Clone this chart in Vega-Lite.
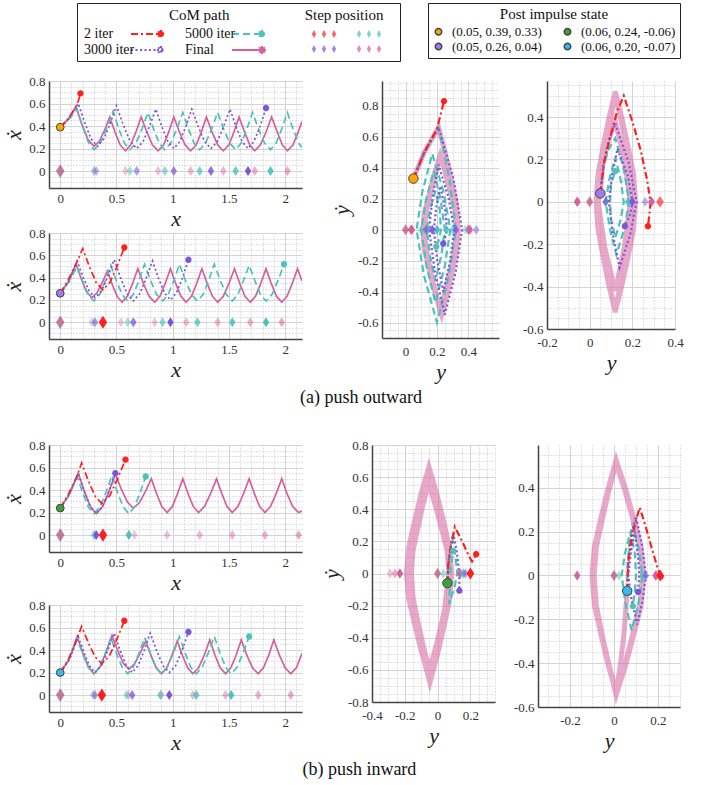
{
"$schema":"https://vega.github.io/schema/vega-lite/v6.json",
"padding":{"left":2,"top":2,"right":4,"bottom":4},
"config":{
 "view":{"stroke":null},
 "font":"Liberation Serif",
 "axis":{"labelFont":"Liberation Serif","labelFontSize":13,"labelColor":"#333","ticks":false,"domainColor":"#444","domainWidth":1.5,"labelOverlap":false,"labelFlush":false,"labelBound":false,"labelPadding":4,"titleFont":"Liberation Serif","titleFontStyle":"italic","titleFontWeight":"normal","titleFontSize":22,"titleColor":"#222","gridWidth":1},
 "legend":{"labelFont":"Liberation Serif","labelFontSize":14,"labelColor":"#111","titleFont":"Liberation Serif","titleFontSize":15,"titleFontWeight":"normal","titleColor":"#111","labelLimit":400},
 "title":{"font":"Liberation Serif","fontSize":18,"fontWeight":"normal","color":"#111"}
},
"datasets":{"all":[
{"p":"a1","m":"l","s":"Final","x":0,"y":0.39},{"p":"a1","m":"l","s":"Final","x":0.07,"y":0.46},{"p":"a1","m":"l","s":"Final","x":0.14,"y":0.57},{"p":"a1","m":"l","s":"Final","x":0.193,"y":0.414},{"p":"a1","m":"l","s":"Final","x":0.247,"y":0.281},{"p":"a1","m":"l","s":"Final","x":0.3,"y":0.22},{"p":"a1","m":"l","s":"Final","x":0.347,"y":0.262},{"p":"a1","m":"l","s":"Final","x":0.393,"y":0.36},{"p":"a1","m":"l","s":"Final","x":0.44,"y":0.48},{"p":"a1","m":"l","s":"Final","x":0.487,"y":0.347},{"p":"a1","m":"l","s":"Final","x":0.533,"y":0.233},{"p":"a1","m":"l","s":"Final","x":0.58,"y":0.18},{"p":"a1","m":"l","s":"Final","x":0.627,"y":0.233},{"p":"a1","m":"l","s":"Final","x":0.673,"y":0.347},{"p":"a1","m":"l","s":"Final","x":0.72,"y":0.48},{"p":"a1","m":"l","s":"Final","x":0.77,"y":0.347},{"p":"a1","m":"l","s":"Final","x":0.82,"y":0.233},{"p":"a1","m":"l","s":"Final","x":0.87,"y":0.18},{"p":"a1","m":"l","s":"Final","x":0.92,"y":0.233},{"p":"a1","m":"l","s":"Final","x":0.965,"y":0.347},{"p":"a1","m":"l","s":"Final","x":1.01,"y":0.48},{"p":"a1","m":"l","s":"Final","x":1.06,"y":0.347},{"p":"a1","m":"l","s":"Final","x":1.11,"y":0.233},{"p":"a1","m":"l","s":"Final","x":1.16,"y":0.18},{"p":"a1","m":"l","s":"Final","x":1.21,"y":0.233},{"p":"a1","m":"l","s":"Final","x":1.255,"y":0.347},{"p":"a1","m":"l","s":"Final","x":1.3,"y":0.48},{"p":"a1","m":"l","s":"Final","x":1.35,"y":0.347},{"p":"a1","m":"l","s":"Final","x":1.4,"y":0.233},{"p":"a1","m":"l","s":"Final","x":1.45,"y":0.18},{"p":"a1","m":"l","s":"Final","x":1.5,"y":0.233},{"p":"a1","m":"l","s":"Final","x":1.545,"y":0.347},{"p":"a1","m":"l","s":"Final","x":1.59,"y":0.48},{"p":"a1","m":"l","s":"Final","x":1.64,"y":0.347},{"p":"a1","m":"l","s":"Final","x":1.685,"y":0.233},{"p":"a1","m":"l","s":"Final","x":1.73,"y":0.18},{"p":"a1","m":"l","s":"Final","x":1.78,"y":0.233},{"p":"a1","m":"l","s":"Final","x":1.83,"y":0.347},{"p":"a1","m":"l","s":"Final","x":1.88,"y":0.48},{"p":"a1","m":"l","s":"Final","x":1.93,"y":0.347},{"p":"a1","m":"l","s":"Final","x":1.975,"y":0.233},{"p":"a1","m":"l","s":"Final","x":2.02,"y":0.18},{"p":"a1","m":"l","s":"Final","x":2.07,"y":0.233},{"p":"a1","m":"l","s":"Final","x":2.11,"y":0.33},{"p":"a1","m":"l","s":"Final","x":2.15,"y":0.44},
{"p":"a1","m":"l","s":"5000 iter","x":0,"y":0.39},{"p":"a1","m":"l","s":"5000 iter","x":0.07,"y":0.45},{"p":"a1","m":"l","s":"5000 iter","x":0.15,"y":0.55},{"p":"a1","m":"l","s":"5000 iter","x":0.2,"y":0.39},{"p":"a1","m":"l","s":"5000 iter","x":0.25,"y":0.255},{"p":"a1","m":"l","s":"5000 iter","x":0.3,"y":0.19},{"p":"a1","m":"l","s":"5000 iter","x":0.357,"y":0.251},{"p":"a1","m":"l","s":"5000 iter","x":0.413,"y":0.38},{"p":"a1","m":"l","s":"5000 iter","x":0.47,"y":0.53},{"p":"a1","m":"l","s":"5000 iter","x":0.52,"y":0.376},{"p":"a1","m":"l","s":"5000 iter","x":0.57,"y":0.25},{"p":"a1","m":"l","s":"5000 iter","x":0.62,"y":0.19},{"p":"a1","m":"l","s":"5000 iter","x":0.673,"y":0.249},{"p":"a1","m":"l","s":"5000 iter","x":0.727,"y":0.375},{"p":"a1","m":"l","s":"5000 iter","x":0.78,"y":0.52},{"p":"a1","m":"l","s":"5000 iter","x":0.83,"y":0.375},{"p":"a1","m":"l","s":"5000 iter","x":0.88,"y":0.249},{"p":"a1","m":"l","s":"5000 iter","x":0.93,"y":0.19},{"p":"a1","m":"l","s":"5000 iter","x":0.983,"y":0.249},{"p":"a1","m":"l","s":"5000 iter","x":1.037,"y":0.375},{"p":"a1","m":"l","s":"5000 iter","x":1.09,"y":0.52},{"p":"a1","m":"l","s":"5000 iter","x":1.14,"y":0.375},{"p":"a1","m":"l","s":"5000 iter","x":1.19,"y":0.249},{"p":"a1","m":"l","s":"5000 iter","x":1.24,"y":0.19},{"p":"a1","m":"l","s":"5000 iter","x":1.293,"y":0.249},{"p":"a1","m":"l","s":"5000 iter","x":1.347,"y":0.375},{"p":"a1","m":"l","s":"5000 iter","x":1.4,"y":0.52},{"p":"a1","m":"l","s":"5000 iter","x":1.453,"y":0.375},{"p":"a1","m":"l","s":"5000 iter","x":1.507,"y":0.249},{"p":"a1","m":"l","s":"5000 iter","x":1.56,"y":0.19},{"p":"a1","m":"l","s":"5000 iter","x":1.61,"y":0.249},{"p":"a1","m":"l","s":"5000 iter","x":1.66,"y":0.375},{"p":"a1","m":"l","s":"5000 iter","x":1.71,"y":0.52},{"p":"a1","m":"l","s":"5000 iter","x":1.763,"y":0.375},{"p":"a1","m":"l","s":"5000 iter","x":1.817,"y":0.249},{"p":"a1","m":"l","s":"5000 iter","x":1.87,"y":0.19},{"p":"a1","m":"l","s":"5000 iter","x":1.92,"y":0.249},{"p":"a1","m":"l","s":"5000 iter","x":1.97,"y":0.375},{"p":"a1","m":"l","s":"5000 iter","x":2.02,"y":0.52},{"p":"a1","m":"l","s":"5000 iter","x":2.07,"y":0.375},{"p":"a1","m":"l","s":"5000 iter","x":2.12,"y":0.249},{"p":"a1","m":"l","s":"5000 iter","x":2.15,"y":0.21},
{"p":"a1","m":"l","s":"3000 iter","x":0,"y":0.39},{"p":"a1","m":"l","s":"3000 iter","x":0.08,"y":0.47},{"p":"a1","m":"l","s":"3000 iter","x":0.16,"y":0.6},{"p":"a1","m":"l","s":"3000 iter","x":0.217,"y":0.433},{"p":"a1","m":"l","s":"3000 iter","x":0.273,"y":0.288},{"p":"a1","m":"l","s":"3000 iter","x":0.33,"y":0.22},{"p":"a1","m":"l","s":"3000 iter","x":0.387,"y":0.285},{"p":"a1","m":"l","s":"3000 iter","x":0.443,"y":0.42},{"p":"a1","m":"l","s":"3000 iter","x":0.5,"y":0.58},{"p":"a1","m":"l","s":"3000 iter","x":0.56,"y":0.413},{"p":"a1","m":"l","s":"3000 iter","x":0.62,"y":0.268},{"p":"a1","m":"l","s":"3000 iter","x":0.68,"y":0.2},{"p":"a1","m":"l","s":"3000 iter","x":0.737,"y":0.263},{"p":"a1","m":"l","s":"3000 iter","x":0.793,"y":0.396},{"p":"a1","m":"l","s":"3000 iter","x":0.85,"y":0.55},{"p":"a1","m":"l","s":"3000 iter","x":0.903,"y":0.396},{"p":"a1","m":"l","s":"3000 iter","x":0.957,"y":0.263},{"p":"a1","m":"l","s":"3000 iter","x":1.01,"y":0.2},{"p":"a1","m":"l","s":"3000 iter","x":1.063,"y":0.263},{"p":"a1","m":"l","s":"3000 iter","x":1.117,"y":0.396},{"p":"a1","m":"l","s":"3000 iter","x":1.17,"y":0.55},{"p":"a1","m":"l","s":"3000 iter","x":1.227,"y":0.396},{"p":"a1","m":"l","s":"3000 iter","x":1.283,"y":0.263},{"p":"a1","m":"l","s":"3000 iter","x":1.34,"y":0.2},{"p":"a1","m":"l","s":"3000 iter","x":1.397,"y":0.263},{"p":"a1","m":"l","s":"3000 iter","x":1.453,"y":0.396},{"p":"a1","m":"l","s":"3000 iter","x":1.51,"y":0.55},{"p":"a1","m":"l","s":"3000 iter","x":1.563,"y":0.396},{"p":"a1","m":"l","s":"3000 iter","x":1.617,"y":0.263},{"p":"a1","m":"l","s":"3000 iter","x":1.67,"y":0.2},{"p":"a1","m":"l","s":"3000 iter","x":1.723,"y":0.263},{"p":"a1","m":"l","s":"3000 iter","x":1.777,"y":0.396},{"p":"a1","m":"l","s":"3000 iter","x":1.83,"y":0.56},
{"p":"a1","m":"l","s":"2 iter","x":0,"y":0.39},{"p":"a1","m":"l","s":"2 iter","x":0.06,"y":0.45},{"p":"a1","m":"l","s":"2 iter","x":0.12,"y":0.54},{"p":"a1","m":"l","s":"2 iter","x":0.16,"y":0.62},{"p":"a1","m":"l","s":"2 iter","x":0.18,"y":0.69},
{"p":"a1","m":"e","s":"2 iter","x":0.18,"y":0.69},{"p":"a1","m":"e","s":"3000 iter","x":1.83,"y":0.56},
{"p":"a1","m":"d","s":"Final","x":0,"y":0,"t":0},{"p":"a1","m":"d","s":"Final","x":0.3,"y":0,"t":0.05},{"p":"a1","m":"d","s":"Final","x":0.58,"y":0,"t":0.1},{"p":"a1","m":"d","s":"Final","x":0.87,"y":0,"t":0.15},{"p":"a1","m":"d","s":"Final","x":1.16,"y":0,"t":0.2},{"p":"a1","m":"d","s":"Final","x":1.45,"y":0,"t":0.25},{"p":"a1","m":"d","s":"Final","x":1.73,"y":0,"t":0.3},{"p":"a1","m":"d","s":"Final","x":2.02,"y":0,"t":0.35},
{"p":"a1","m":"d","s":"5000 iter","x":0,"y":0,"t":0},{"p":"a1","m":"d","s":"5000 iter","x":0.3,"y":0,"t":0.15},{"p":"a1","m":"d","s":"5000 iter","x":0.62,"y":0,"t":0.3},{"p":"a1","m":"d","s":"5000 iter","x":0.93,"y":0,"t":0.45},{"p":"a1","m":"d","s":"5000 iter","x":1.24,"y":0,"t":0.6},{"p":"a1","m":"d","s":"5000 iter","x":1.56,"y":0,"t":0.75},{"p":"a1","m":"d","s":"5000 iter","x":1.87,"y":0,"t":0.9},
{"p":"a1","m":"d","s":"3000 iter","x":0,"y":0,"t":0},{"p":"a1","m":"d","s":"3000 iter","x":0.32,"y":0,"t":0.2},{"p":"a1","m":"d","s":"3000 iter","x":0.68,"y":0,"t":0.4},{"p":"a1","m":"d","s":"3000 iter","x":1.01,"y":0,"t":0.6},{"p":"a1","m":"d","s":"3000 iter","x":1.34,"y":0,"t":0.8},{"p":"a1","m":"d","s":"3000 iter","x":1.67,"y":0,"t":1},
{"p":"a1","m":"d","s":"2 iter","x":0,"y":0,"t":0},
{"p":"a1","m":"i","lab":"(0.05, 0.39,  0.33)","x":0,"y":0.39},

{"p":"a2","m":"l","s":"Final","x":0,"y":0.26},{"p":"a2","m":"l","s":"Final","x":0.07,"y":0.36},{"p":"a2","m":"l","s":"Final","x":0.14,"y":0.52},{"p":"a2","m":"l","s":"Final","x":0.187,"y":0.388},{"p":"a2","m":"l","s":"Final","x":0.233,"y":0.274},{"p":"a2","m":"l","s":"Final","x":0.28,"y":0.22},{"p":"a2","m":"l","s":"Final","x":0.327,"y":0.263},{"p":"a2","m":"l","s":"Final","x":0.373,"y":0.354},{"p":"a2","m":"l","s":"Final","x":0.42,"y":0.46},{"p":"a2","m":"l","s":"Final","x":0.463,"y":0.337},{"p":"a2","m":"l","s":"Final","x":0.507,"y":0.23},{"p":"a2","m":"l","s":"Final","x":0.55,"y":0.18},{"p":"a2","m":"l","s":"Final","x":0.597,"y":0.233},{"p":"a2","m":"l","s":"Final","x":0.643,"y":0.347},{"p":"a2","m":"l","s":"Final","x":0.69,"y":0.48},{"p":"a2","m":"l","s":"Final","x":0.74,"y":0.347},{"p":"a2","m":"l","s":"Final","x":0.79,"y":0.233},{"p":"a2","m":"l","s":"Final","x":0.84,"y":0.18},{"p":"a2","m":"l","s":"Final","x":0.887,"y":0.233},{"p":"a2","m":"l","s":"Final","x":0.933,"y":0.347},{"p":"a2","m":"l","s":"Final","x":0.98,"y":0.48},{"p":"a2","m":"l","s":"Final","x":1.027,"y":0.347},{"p":"a2","m":"l","s":"Final","x":1.073,"y":0.233},{"p":"a2","m":"l","s":"Final","x":1.12,"y":0.18},{"p":"a2","m":"l","s":"Final","x":1.167,"y":0.233},{"p":"a2","m":"l","s":"Final","x":1.213,"y":0.347},{"p":"a2","m":"l","s":"Final","x":1.26,"y":0.48},{"p":"a2","m":"l","s":"Final","x":1.307,"y":0.347},{"p":"a2","m":"l","s":"Final","x":1.353,"y":0.233},{"p":"a2","m":"l","s":"Final","x":1.4,"y":0.18},{"p":"a2","m":"l","s":"Final","x":1.45,"y":0.233},{"p":"a2","m":"l","s":"Final","x":1.5,"y":0.347},{"p":"a2","m":"l","s":"Final","x":1.55,"y":0.48},{"p":"a2","m":"l","s":"Final","x":1.597,"y":0.347},{"p":"a2","m":"l","s":"Final","x":1.643,"y":0.233},{"p":"a2","m":"l","s":"Final","x":1.69,"y":0.18},{"p":"a2","m":"l","s":"Final","x":1.737,"y":0.233},{"p":"a2","m":"l","s":"Final","x":1.783,"y":0.347},{"p":"a2","m":"l","s":"Final","x":1.83,"y":0.48},{"p":"a2","m":"l","s":"Final","x":1.877,"y":0.347},{"p":"a2","m":"l","s":"Final","x":1.923,"y":0.233},{"p":"a2","m":"l","s":"Final","x":1.97,"y":0.18},{"p":"a2","m":"l","s":"Final","x":2.017,"y":0.233},{"p":"a2","m":"l","s":"Final","x":2.063,"y":0.347},{"p":"a2","m":"l","s":"Final","x":2.11,"y":0.48},{"p":"a2","m":"l","s":"Final","x":2.15,"y":0.37},
{"p":"a2","m":"l","s":"5000 iter","x":0,"y":0.26},{"p":"a2","m":"l","s":"5000 iter","x":0.07,"y":0.35},{"p":"a2","m":"l","s":"5000 iter","x":0.15,"y":0.5},{"p":"a2","m":"l","s":"5000 iter","x":0.2,"y":0.364},{"p":"a2","m":"l","s":"5000 iter","x":0.25,"y":0.246},{"p":"a2","m":"l","s":"5000 iter","x":0.3,"y":0.19},{"p":"a2","m":"l","s":"5000 iter","x":0.35,"y":0.248},{"p":"a2","m":"l","s":"5000 iter","x":0.4,"y":0.37},{"p":"a2","m":"l","s":"5000 iter","x":0.45,"y":0.51},{"p":"a2","m":"l","s":"5000 iter","x":0.5,"y":0.37},{"p":"a2","m":"l","s":"5000 iter","x":0.55,"y":0.249},{"p":"a2","m":"l","s":"5000 iter","x":0.6,"y":0.19},{"p":"a2","m":"l","s":"5000 iter","x":0.65,"y":0.249},{"p":"a2","m":"l","s":"5000 iter","x":0.7,"y":0.375},{"p":"a2","m":"l","s":"5000 iter","x":0.75,"y":0.52},{"p":"a2","m":"l","s":"5000 iter","x":0.803,"y":0.375},{"p":"a2","m":"l","s":"5000 iter","x":0.857,"y":0.249},{"p":"a2","m":"l","s":"5000 iter","x":0.91,"y":0.19},{"p":"a2","m":"l","s":"5000 iter","x":0.96,"y":0.249},{"p":"a2","m":"l","s":"5000 iter","x":1.01,"y":0.375},{"p":"a2","m":"l","s":"5000 iter","x":1.06,"y":0.52},{"p":"a2","m":"l","s":"5000 iter","x":1.113,"y":0.375},{"p":"a2","m":"l","s":"5000 iter","x":1.167,"y":0.249},{"p":"a2","m":"l","s":"5000 iter","x":1.22,"y":0.19},{"p":"a2","m":"l","s":"5000 iter","x":1.27,"y":0.249},{"p":"a2","m":"l","s":"5000 iter","x":1.32,"y":0.375},{"p":"a2","m":"l","s":"5000 iter","x":1.37,"y":0.52},{"p":"a2","m":"l","s":"5000 iter","x":1.423,"y":0.375},{"p":"a2","m":"l","s":"5000 iter","x":1.477,"y":0.249},{"p":"a2","m":"l","s":"5000 iter","x":1.53,"y":0.19},{"p":"a2","m":"l","s":"5000 iter","x":1.58,"y":0.249},{"p":"a2","m":"l","s":"5000 iter","x":1.63,"y":0.375},{"p":"a2","m":"l","s":"5000 iter","x":1.68,"y":0.51},{"p":"a2","m":"l","s":"5000 iter","x":1.73,"y":0.375},{"p":"a2","m":"l","s":"5000 iter","x":1.78,"y":0.249},{"p":"a2","m":"l","s":"5000 iter","x":1.83,"y":0.19},{"p":"a2","m":"l","s":"5000 iter","x":1.883,"y":0.249},{"p":"a2","m":"l","s":"5000 iter","x":1.937,"y":0.375},{"p":"a2","m":"l","s":"5000 iter","x":1.99,"y":0.52},
{"p":"a2","m":"l","s":"3000 iter","x":0,"y":0.26},{"p":"a2","m":"l","s":"3000 iter","x":0.08,"y":0.37},{"p":"a2","m":"l","s":"3000 iter","x":0.15,"y":0.55},{"p":"a2","m":"l","s":"3000 iter","x":0.203,"y":0.405},{"p":"a2","m":"l","s":"3000 iter","x":0.257,"y":0.279},{"p":"a2","m":"l","s":"3000 iter","x":0.31,"y":0.22},{"p":"a2","m":"l","s":"3000 iter","x":0.367,"y":0.281},{"p":"a2","m":"l","s":"3000 iter","x":0.423,"y":0.41},{"p":"a2","m":"l","s":"3000 iter","x":0.48,"y":0.56},{"p":"a2","m":"l","s":"3000 iter","x":0.537,"y":0.397},{"p":"a2","m":"l","s":"3000 iter","x":0.593,"y":0.257},{"p":"a2","m":"l","s":"3000 iter","x":0.65,"y":0.19},{"p":"a2","m":"l","s":"3000 iter","x":0.707,"y":0.256},{"p":"a2","m":"l","s":"3000 iter","x":0.763,"y":0.392},{"p":"a2","m":"l","s":"3000 iter","x":0.82,"y":0.55},{"p":"a2","m":"l","s":"3000 iter","x":0.873,"y":0.396},{"p":"a2","m":"l","s":"3000 iter","x":0.927,"y":0.263},{"p":"a2","m":"l","s":"3000 iter","x":0.98,"y":0.2},{"p":"a2","m":"l","s":"3000 iter","x":1.033,"y":0.263},{"p":"a2","m":"l","s":"3000 iter","x":1.087,"y":0.396},{"p":"a2","m":"l","s":"3000 iter","x":1.14,"y":0.56},
{"p":"a2","m":"l","s":"2 iter","x":0,"y":0.26},{"p":"a2","m":"l","s":"2 iter","x":0.07,"y":0.38},{"p":"a2","m":"l","s":"2 iter","x":0.14,"y":0.52},{"p":"a2","m":"l","s":"2 iter","x":0.2,"y":0.66},{"p":"a2","m":"l","s":"2 iter","x":0.26,"y":0.497},{"p":"a2","m":"l","s":"2 iter","x":0.32,"y":0.357},{"p":"a2","m":"l","s":"2 iter","x":0.38,"y":0.29},{"p":"a2","m":"l","s":"2 iter","x":0.443,"y":0.36},{"p":"a2","m":"l","s":"2 iter","x":0.507,"y":0.505},{"p":"a2","m":"l","s":"2 iter","x":0.57,"y":0.67},
{"p":"a2","m":"e","s":"2 iter","x":0.57,"y":0.67},{"p":"a2","m":"e","s":"3000 iter","x":1.14,"y":0.56},{"p":"a2","m":"e","s":"5000 iter","x":1.99,"y":0.52},
{"p":"a2","m":"d","s":"Final","x":0,"y":0,"t":0},{"p":"a2","m":"d","s":"Final","x":0.28,"y":0,"t":0.05},{"p":"a2","m":"d","s":"Final","x":0.54,"y":0,"t":0.1},{"p":"a2","m":"d","s":"Final","x":0.84,"y":0,"t":0.15},{"p":"a2","m":"d","s":"Final","x":1.12,"y":0,"t":0.2},{"p":"a2","m":"d","s":"Final","x":1.4,"y":0,"t":0.25},{"p":"a2","m":"d","s":"Final","x":1.69,"y":0,"t":0.3},{"p":"a2","m":"d","s":"Final","x":1.97,"y":0,"t":0.35},
{"p":"a2","m":"d","s":"5000 iter","x":0,"y":0,"t":0},{"p":"a2","m":"d","s":"5000 iter","x":0.3,"y":0,"t":0.17},{"p":"a2","m":"d","s":"5000 iter","x":0.6,"y":0,"t":0.33},{"p":"a2","m":"d","s":"5000 iter","x":0.91,"y":0,"t":0.5},{"p":"a2","m":"d","s":"5000 iter","x":1.22,"y":0,"t":0.67},{"p":"a2","m":"d","s":"5000 iter","x":1.53,"y":0,"t":0.83},{"p":"a2","m":"d","s":"5000 iter","x":1.83,"y":0,"t":1},
{"p":"a2","m":"d","s":"3000 iter","x":0,"y":0,"t":0},{"p":"a2","m":"d","s":"3000 iter","x":0.31,"y":0,"t":0.33},{"p":"a2","m":"d","s":"3000 iter","x":0.65,"y":0,"t":0.67},{"p":"a2","m":"d","s":"3000 iter","x":0.98,"y":0,"t":1},
{"p":"a2","m":"d","s":"2 iter","x":0,"y":0,"t":0},{"p":"a2","m":"d","s":"2 iter","x":0.38,"y":0,"t":1},
{"p":"a2","m":"i","lab":"(0.05, 0.26,  0.04)","x":0,"y":0.26},

{"p":"b1","m":"l","s":"Final","x":0,"y":0.24},{"p":"b1","m":"l","s":"Final","x":0.08,"y":0.36},{"p":"b1","m":"l","s":"Final","x":0.16,"y":0.55},{"p":"b1","m":"l","s":"Final","x":0.213,"y":0.392},{"p":"b1","m":"l","s":"Final","x":0.267,"y":0.255},{"p":"b1","m":"l","s":"Final","x":0.32,"y":0.19},{"p":"b1","m":"l","s":"Final","x":0.377,"y":0.253},{"p":"b1","m":"l","s":"Final","x":0.433,"y":0.386},{"p":"b1","m":"l","s":"Final","x":0.49,"y":0.54},{"p":"b1","m":"l","s":"Final","x":0.543,"y":0.408},{"p":"b1","m":"l","s":"Final","x":0.597,"y":0.294},{"p":"b1","m":"l","s":"Final","x":0.65,"y":0.24},{"p":"b1","m":"l","s":"Final","x":0.703,"y":0.287},{"p":"b1","m":"l","s":"Final","x":0.757,"y":0.386},{"p":"b1","m":"l","s":"Final","x":0.81,"y":0.5},{"p":"b1","m":"l","s":"Final","x":0.857,"y":0.368},{"p":"b1","m":"l","s":"Final","x":0.903,"y":0.254},{"p":"b1","m":"l","s":"Final","x":0.95,"y":0.2},{"p":"b1","m":"l","s":"Final","x":0.997,"y":0.254},{"p":"b1","m":"l","s":"Final","x":1.043,"y":0.368},{"p":"b1","m":"l","s":"Final","x":1.09,"y":0.5},{"p":"b1","m":"l","s":"Final","x":1.137,"y":0.368},{"p":"b1","m":"l","s":"Final","x":1.183,"y":0.254},{"p":"b1","m":"l","s":"Final","x":1.23,"y":0.2},{"p":"b1","m":"l","s":"Final","x":1.283,"y":0.254},{"p":"b1","m":"l","s":"Final","x":1.337,"y":0.368},{"p":"b1","m":"l","s":"Final","x":1.39,"y":0.5},{"p":"b1","m":"l","s":"Final","x":1.437,"y":0.368},{"p":"b1","m":"l","s":"Final","x":1.483,"y":0.254},{"p":"b1","m":"l","s":"Final","x":1.53,"y":0.2},{"p":"b1","m":"l","s":"Final","x":1.58,"y":0.254},{"p":"b1","m":"l","s":"Final","x":1.63,"y":0.368},{"p":"b1","m":"l","s":"Final","x":1.68,"y":0.5},{"p":"b1","m":"l","s":"Final","x":1.727,"y":0.368},{"p":"b1","m":"l","s":"Final","x":1.773,"y":0.254},{"p":"b1","m":"l","s":"Final","x":1.82,"y":0.2},{"p":"b1","m":"l","s":"Final","x":1.87,"y":0.254},{"p":"b1","m":"l","s":"Final","x":1.92,"y":0.368},{"p":"b1","m":"l","s":"Final","x":1.97,"y":0.5},{"p":"b1","m":"l","s":"Final","x":2.017,"y":0.368},{"p":"b1","m":"l","s":"Final","x":2.067,"y":0.254},{"p":"b1","m":"l","s":"Final","x":2.12,"y":0.2},{"p":"b1","m":"l","s":"Final","x":2.15,"y":0.215},
{"p":"b1","m":"l","s":"5000 iter","x":0,"y":0.24},{"p":"b1","m":"l","s":"5000 iter","x":0.07,"y":0.34},{"p":"b1","m":"l","s":"5000 iter","x":0.15,"y":0.52},{"p":"b1","m":"l","s":"5000 iter","x":0.2,"y":0.375},{"p":"b1","m":"l","s":"5000 iter","x":0.25,"y":0.25},{"p":"b1","m":"l","s":"5000 iter","x":0.3,"y":0.19},{"p":"b1","m":"l","s":"5000 iter","x":0.353,"y":0.25},{"p":"b1","m":"l","s":"5000 iter","x":0.407,"y":0.38},{"p":"b1","m":"l","s":"5000 iter","x":0.46,"y":0.53},{"p":"b1","m":"l","s":"5000 iter","x":0.51,"y":0.377},{"p":"b1","m":"l","s":"5000 iter","x":0.56,"y":0.25},{"p":"b1","m":"l","s":"5000 iter","x":0.61,"y":0.19},{"p":"b1","m":"l","s":"5000 iter","x":0.66,"y":0.25},{"p":"b1","m":"l","s":"5000 iter","x":0.71,"y":0.375},{"p":"b1","m":"l","s":"5000 iter","x":0.76,"y":0.52},
{"p":"b1","m":"l","s":"3000 iter","x":0,"y":0.24},{"p":"b1","m":"l","s":"3000 iter","x":0.08,"y":0.36},{"p":"b1","m":"l","s":"3000 iter","x":0.16,"y":0.55},{"p":"b1","m":"l","s":"3000 iter","x":0.213,"y":0.39},{"p":"b1","m":"l","s":"3000 iter","x":0.267,"y":0.255},{"p":"b1","m":"l","s":"3000 iter","x":0.32,"y":0.19},{"p":"b1","m":"l","s":"3000 iter","x":0.377,"y":0.255},{"p":"b1","m":"l","s":"3000 iter","x":0.433,"y":0.39},{"p":"b1","m":"l","s":"3000 iter","x":0.49,"y":0.55},
{"p":"b1","m":"l","s":"2 iter","x":0,"y":0.24},{"p":"b1","m":"l","s":"2 iter","x":0.07,"y":0.36},{"p":"b1","m":"l","s":"2 iter","x":0.14,"y":0.5},{"p":"b1","m":"l","s":"2 iter","x":0.19,"y":0.64},{"p":"b1","m":"l","s":"2 iter","x":0.25,"y":0.482},{"p":"b1","m":"l","s":"2 iter","x":0.31,"y":0.345},{"p":"b1","m":"l","s":"2 iter","x":0.37,"y":0.28},{"p":"b1","m":"l","s":"2 iter","x":0.44,"y":0.35},{"p":"b1","m":"l","s":"2 iter","x":0.51,"y":0.5},{"p":"b1","m":"l","s":"2 iter","x":0.58,"y":0.67},
{"p":"b1","m":"e","s":"2 iter","x":0.58,"y":0.67},{"p":"b1","m":"e","s":"3000 iter","x":0.49,"y":0.55},{"p":"b1","m":"e","s":"5000 iter","x":0.76,"y":0.52},
{"p":"b1","m":"d","s":"Final","x":0,"y":0,"t":0},{"p":"b1","m":"d","s":"Final","x":0.32,"y":0,"t":0.05},{"p":"b1","m":"d","s":"Final","x":0.66,"y":0,"t":0.1},{"p":"b1","m":"d","s":"Final","x":0.95,"y":0,"t":0.15},{"p":"b1","m":"d","s":"Final","x":1.24,"y":0,"t":0.2},{"p":"b1","m":"d","s":"Final","x":1.53,"y":0,"t":0.25},{"p":"b1","m":"d","s":"Final","x":1.82,"y":0,"t":0.3},{"p":"b1","m":"d","s":"Final","x":2.12,"y":0,"t":0.35},
{"p":"b1","m":"d","s":"5000 iter","x":0,"y":0,"t":0},{"p":"b1","m":"d","s":"5000 iter","x":0.3,"y":0,"t":0.5},{"p":"b1","m":"d","s":"5000 iter","x":0.61,"y":0,"t":1},
{"p":"b1","m":"d","s":"3000 iter","x":0,"y":0,"t":0},{"p":"b1","m":"d","s":"3000 iter","x":0.32,"y":0,"t":1},
{"p":"b1","m":"d","s":"2 iter","x":0,"y":0,"t":0},{"p":"b1","m":"d","s":"2 iter","x":0.38,"y":0,"t":1},
{"p":"b1","m":"i","lab":"(0.06, 0.24, -0.06)","x":0,"y":0.24},

{"p":"b2","m":"l","s":"Final","x":0,"y":0.2},{"p":"b2","m":"l","s":"Final","x":0.08,"y":0.32},{"p":"b2","m":"l","s":"Final","x":0.15,"y":0.52},{"p":"b2","m":"l","s":"Final","x":0.2,"y":0.375},{"p":"b2","m":"l","s":"Final","x":0.25,"y":0.25},{"p":"b2","m":"l","s":"Final","x":0.3,"y":0.19},{"p":"b2","m":"l","s":"Final","x":0.353,"y":0.25},{"p":"b2","m":"l","s":"Final","x":0.407,"y":0.38},{"p":"b2","m":"l","s":"Final","x":0.46,"y":0.53},{"p":"b2","m":"l","s":"Final","x":0.51,"y":0.398},{"p":"b2","m":"l","s":"Final","x":0.56,"y":0.284},{"p":"b2","m":"l","s":"Final","x":0.61,"y":0.23},{"p":"b2","m":"l","s":"Final","x":0.66,"y":0.277},{"p":"b2","m":"l","s":"Final","x":0.71,"y":0.372},{"p":"b2","m":"l","s":"Final","x":0.76,"y":0.48},{"p":"b2","m":"l","s":"Final","x":0.807,"y":0.352},{"p":"b2","m":"l","s":"Final","x":0.853,"y":0.242},{"p":"b2","m":"l","s":"Final","x":0.9,"y":0.19},{"p":"b2","m":"l","s":"Final","x":0.947,"y":0.242},{"p":"b2","m":"l","s":"Final","x":0.993,"y":0.352},{"p":"b2","m":"l","s":"Final","x":1.04,"y":0.48},{"p":"b2","m":"l","s":"Final","x":1.087,"y":0.352},{"p":"b2","m":"l","s":"Final","x":1.133,"y":0.242},{"p":"b2","m":"l","s":"Final","x":1.18,"y":0.19},{"p":"b2","m":"l","s":"Final","x":1.23,"y":0.242},{"p":"b2","m":"l","s":"Final","x":1.28,"y":0.352},{"p":"b2","m":"l","s":"Final","x":1.33,"y":0.49},{"p":"b2","m":"l","s":"Final","x":1.377,"y":0.352},{"p":"b2","m":"l","s":"Final","x":1.423,"y":0.242},{"p":"b2","m":"l","s":"Final","x":1.47,"y":0.19},{"p":"b2","m":"l","s":"Final","x":1.517,"y":0.242},{"p":"b2","m":"l","s":"Final","x":1.563,"y":0.352},{"p":"b2","m":"l","s":"Final","x":1.61,"y":0.49},{"p":"b2","m":"l","s":"Final","x":1.66,"y":0.352},{"p":"b2","m":"l","s":"Final","x":1.71,"y":0.242},{"p":"b2","m":"l","s":"Final","x":1.76,"y":0.19},{"p":"b2","m":"l","s":"Final","x":1.807,"y":0.242},{"p":"b2","m":"l","s":"Final","x":1.853,"y":0.352},{"p":"b2","m":"l","s":"Final","x":1.9,"y":0.49},{"p":"b2","m":"l","s":"Final","x":1.95,"y":0.352},{"p":"b2","m":"l","s":"Final","x":2,"y":0.242},{"p":"b2","m":"l","s":"Final","x":2.05,"y":0.19},{"p":"b2","m":"l","s":"Final","x":2.1,"y":0.242},{"p":"b2","m":"l","s":"Final","x":2.15,"y":0.37},
{"p":"b2","m":"l","s":"5000 iter","x":0,"y":0.2},{"p":"b2","m":"l","s":"5000 iter","x":0.07,"y":0.3},{"p":"b2","m":"l","s":"5000 iter","x":0.15,"y":0.5},{"p":"b2","m":"l","s":"5000 iter","x":0.2,"y":0.364},{"p":"b2","m":"l","s":"5000 iter","x":0.25,"y":0.246},{"p":"b2","m":"l","s":"5000 iter","x":0.3,"y":0.19},{"p":"b2","m":"l","s":"5000 iter","x":0.35,"y":0.248},{"p":"b2","m":"l","s":"5000 iter","x":0.4,"y":0.37},{"p":"b2","m":"l","s":"5000 iter","x":0.45,"y":0.51},{"p":"b2","m":"l","s":"5000 iter","x":0.5,"y":0.37},{"p":"b2","m":"l","s":"5000 iter","x":0.55,"y":0.248},{"p":"b2","m":"l","s":"5000 iter","x":0.6,"y":0.19},{"p":"b2","m":"l","s":"5000 iter","x":0.65,"y":0.248},{"p":"b2","m":"l","s":"5000 iter","x":0.7,"y":0.37},{"p":"b2","m":"l","s":"5000 iter","x":0.75,"y":0.51},{"p":"b2","m":"l","s":"5000 iter","x":0.8,"y":0.375},{"p":"b2","m":"l","s":"5000 iter","x":0.85,"y":0.249},{"p":"b2","m":"l","s":"5000 iter","x":0.9,"y":0.19},{"p":"b2","m":"l","s":"5000 iter","x":0.953,"y":0.249},{"p":"b2","m":"l","s":"5000 iter","x":1.007,"y":0.375},{"p":"b2","m":"l","s":"5000 iter","x":1.06,"y":0.52},{"p":"b2","m":"l","s":"5000 iter","x":1.11,"y":0.375},{"p":"b2","m":"l","s":"5000 iter","x":1.16,"y":0.249},{"p":"b2","m":"l","s":"5000 iter","x":1.21,"y":0.19},{"p":"b2","m":"l","s":"5000 iter","x":1.263,"y":0.249},{"p":"b2","m":"l","s":"5000 iter","x":1.317,"y":0.375},{"p":"b2","m":"l","s":"5000 iter","x":1.37,"y":0.52},{"p":"b2","m":"l","s":"5000 iter","x":1.42,"y":0.375},{"p":"b2","m":"l","s":"5000 iter","x":1.47,"y":0.249},{"p":"b2","m":"l","s":"5000 iter","x":1.52,"y":0.19},{"p":"b2","m":"l","s":"5000 iter","x":1.573,"y":0.249},{"p":"b2","m":"l","s":"5000 iter","x":1.627,"y":0.375},{"p":"b2","m":"l","s":"5000 iter","x":1.68,"y":0.52},
{"p":"b2","m":"l","s":"3000 iter","x":0,"y":0.2},{"p":"b2","m":"l","s":"3000 iter","x":0.08,"y":0.31},{"p":"b2","m":"l","s":"3000 iter","x":0.16,"y":0.52},{"p":"b2","m":"l","s":"3000 iter","x":0.21,"y":0.38},{"p":"b2","m":"l","s":"3000 iter","x":0.26,"y":0.258},{"p":"b2","m":"l","s":"3000 iter","x":0.31,"y":0.2},{"p":"b2","m":"l","s":"3000 iter","x":0.367,"y":0.263},{"p":"b2","m":"l","s":"3000 iter","x":0.423,"y":0.396},{"p":"b2","m":"l","s":"3000 iter","x":0.48,"y":0.55},{"p":"b2","m":"l","s":"3000 iter","x":0.533,"y":0.396},{"p":"b2","m":"l","s":"3000 iter","x":0.587,"y":0.263},{"p":"b2","m":"l","s":"3000 iter","x":0.64,"y":0.2},{"p":"b2","m":"l","s":"3000 iter","x":0.693,"y":0.263},{"p":"b2","m":"l","s":"3000 iter","x":0.747,"y":0.396},{"p":"b2","m":"l","s":"3000 iter","x":0.8,"y":0.55},{"p":"b2","m":"l","s":"3000 iter","x":0.857,"y":0.396},{"p":"b2","m":"l","s":"3000 iter","x":0.913,"y":0.263},{"p":"b2","m":"l","s":"3000 iter","x":0.97,"y":0.2},{"p":"b2","m":"l","s":"3000 iter","x":1.027,"y":0.263},{"p":"b2","m":"l","s":"3000 iter","x":1.083,"y":0.396},{"p":"b2","m":"l","s":"3000 iter","x":1.14,"y":0.56},
{"p":"b2","m":"l","s":"2 iter","x":0,"y":0.2},{"p":"b2","m":"l","s":"2 iter","x":0.07,"y":0.31},{"p":"b2","m":"l","s":"2 iter","x":0.13,"y":0.45},{"p":"b2","m":"l","s":"2 iter","x":0.19,"y":0.61},{"p":"b2","m":"l","s":"2 iter","x":0.25,"y":0.465},{"p":"b2","m":"l","s":"2 iter","x":0.31,"y":0.339},{"p":"b2","m":"l","s":"2 iter","x":0.37,"y":0.28},{"p":"b2","m":"l","s":"2 iter","x":0.437,"y":0.348},{"p":"b2","m":"l","s":"2 iter","x":0.503,"y":0.493},{"p":"b2","m":"l","s":"2 iter","x":0.57,"y":0.66},
{"p":"b2","m":"e","s":"2 iter","x":0.57,"y":0.66},{"p":"b2","m":"e","s":"3000 iter","x":1.14,"y":0.56},{"p":"b2","m":"e","s":"5000 iter","x":1.68,"y":0.52},
{"p":"b2","m":"d","s":"Final","x":0,"y":0,"t":0},{"p":"b2","m":"d","s":"Final","x":0.3,"y":0,"t":0.05},{"p":"b2","m":"d","s":"Final","x":0.61,"y":0,"t":0.1},{"p":"b2","m":"d","s":"Final","x":0.9,"y":0,"t":0.15},{"p":"b2","m":"d","s":"Final","x":1.18,"y":0,"t":0.2},{"p":"b2","m":"d","s":"Final","x":1.47,"y":0,"t":0.25},{"p":"b2","m":"d","s":"Final","x":1.76,"y":0,"t":0.3},{"p":"b2","m":"d","s":"Final","x":2.05,"y":0,"t":0.35},
{"p":"b2","m":"d","s":"5000 iter","x":0,"y":0,"t":0},{"p":"b2","m":"d","s":"5000 iter","x":0.29,"y":0,"t":0.2},{"p":"b2","m":"d","s":"5000 iter","x":0.59,"y":0,"t":0.4},{"p":"b2","m":"d","s":"5000 iter","x":0.89,"y":0,"t":0.6},{"p":"b2","m":"d","s":"5000 iter","x":1.21,"y":0,"t":0.8},{"p":"b2","m":"d","s":"5000 iter","x":1.52,"y":0,"t":1},
{"p":"b2","m":"d","s":"3000 iter","x":0,"y":0,"t":0},{"p":"b2","m":"d","s":"3000 iter","x":0.31,"y":0,"t":0.33},{"p":"b2","m":"d","s":"3000 iter","x":0.64,"y":0,"t":0.67},{"p":"b2","m":"d","s":"3000 iter","x":0.97,"y":0,"t":1},
{"p":"b2","m":"d","s":"2 iter","x":0,"y":0,"t":0},{"p":"b2","m":"d","s":"2 iter","x":0.37,"y":0,"t":1},
{"p":"b2","m":"i","lab":"(0.06, 0.20, -0.07)","x":0,"y":0.2},

{"p":"a3","m":"l","s":"Final","x":0.05,"y":0.33},{"p":"a3","m":"l","s":"Final","x":0.12,"y":0.5},{"p":"a3","m":"l","s":"Final","x":0.21,"y":0.66},{"p":"a3","m":"l","s":"Final","x":0.253,"y":0.495},{"p":"a3","m":"l","s":"Final","x":0.289,"y":0.33},{"p":"a3","m":"l","s":"Final","x":0.323,"y":0.165},{"p":"a3","m":"l","s":"Final","x":0.335,"y":0},{"p":"a3","m":"l","s":"Final","x":0.325,"y":-0.138},{"p":"a3","m":"l","s":"Final","x":0.296,"y":-0.275},{"p":"a3","m":"l","s":"Final","x":0.266,"y":-0.413},{"p":"a3","m":"l","s":"Final","x":0.23,"y":-0.55},{"p":"a3","m":"l","s":"Final","x":0.191,"y":-0.413},{"p":"a3","m":"l","s":"Final","x":0.158,"y":-0.275},{"p":"a3","m":"l","s":"Final","x":0.127,"y":-0.138},{"p":"a3","m":"l","s":"Final","x":0.115,"y":0},{"p":"a3","m":"l","s":"Final","x":0.126,"y":0.12},{"p":"a3","m":"l","s":"Final","x":0.154,"y":0.24},{"p":"a3","m":"l","s":"Final","x":0.184,"y":0.36},{"p":"a3","m":"l","s":"Final","x":0.22,"y":0.48},{"p":"a3","m":"l","s":"Final","x":0.256,"y":0.36},{"p":"a3","m":"l","s":"Final","x":0.286,"y":0.24},{"p":"a3","m":"l","s":"Final","x":0.315,"y":0.12},{"p":"a3","m":"l","s":"Final","x":0.325,"y":0},{"p":"a3","m":"l","s":"Final","x":0.315,"y":-0.13},{"p":"a3","m":"l","s":"Final","x":0.286,"y":-0.26},{"p":"a3","m":"l","s":"Final","x":0.256,"y":-0.39},{"p":"a3","m":"l","s":"Final","x":0.22,"y":-0.52},{"p":"a3","m":"l","s":"Final","x":0.183,"y":-0.39},{"p":"a3","m":"l","s":"Final","x":0.151,"y":-0.26},{"p":"a3","m":"l","s":"Final","x":0.121,"y":-0.13},{"p":"a3","m":"l","s":"Final","x":0.11,"y":0},{"p":"a3","m":"l","s":"Final","x":0.122,"y":0.118},{"p":"a3","m":"l","s":"Final","x":0.153,"y":0.235},{"p":"a3","m":"l","s":"Final","x":0.186,"y":0.353},{"p":"a3","m":"l","s":"Final","x":0.225,"y":0.47},{"p":"a3","m":"l","s":"Final","x":0.261,"y":0.353},{"p":"a3","m":"l","s":"Final","x":0.291,"y":0.235},{"p":"a3","m":"l","s":"Final","x":0.32,"y":0.118},{"p":"a3","m":"l","s":"Final","x":0.33,"y":0},{"p":"a3","m":"l","s":"Final","x":0.32,"y":-0.133},{"p":"a3","m":"l","s":"Final","x":0.291,"y":-0.265},{"p":"a3","m":"l","s":"Final","x":0.261,"y":-0.398},{"p":"a3","m":"l","s":"Final","x":0.225,"y":-0.53},{"p":"a3","m":"l","s":"Final","x":0.189,"y":-0.398},{"p":"a3","m":"l","s":"Final","x":0.159,"y":-0.265},{"p":"a3","m":"l","s":"Final","x":0.131,"y":-0.133},{"p":"a3","m":"l","s":"Final","x":0.12,"y":0},{"p":"a3","m":"l","s":"Final","x":0.13,"y":0.115},{"p":"a3","m":"l","s":"Final","x":0.157,"y":0.23},{"p":"a3","m":"l","s":"Final","x":0.186,"y":0.345},{"p":"a3","m":"l","s":"Final","x":0.22,"y":0.46},
{"p":"a3","m":"l","s":"5000 iter","x":0.05,"y":0.33},{"p":"a3","m":"l","s":"5000 iter","x":0.12,"y":0.5},{"p":"a3","m":"l","s":"5000 iter","x":0.21,"y":0.66},{"p":"a3","m":"l","s":"5000 iter","x":0.279,"y":0.33},{"p":"a3","m":"l","s":"5000 iter","x":0.32,"y":0},{"p":"a3","m":"l","s":"5000 iter","x":0.276,"y":-0.3},{"p":"a3","m":"l","s":"5000 iter","x":0.2,"y":-0.6},{"p":"a3","m":"l","s":"5000 iter","x":0.118,"y":-0.3},{"p":"a3","m":"l","s":"5000 iter","x":0.07,"y":0},{"p":"a3","m":"l","s":"5000 iter","x":0.107,"y":0.245},{"p":"a3","m":"l","s":"5000 iter","x":0.17,"y":0.49},{"p":"a3","m":"l","s":"5000 iter","x":0.242,"y":0.245},{"p":"a3","m":"l","s":"5000 iter","x":0.285,"y":0},{"p":"a3","m":"l","s":"5000 iter","x":0.25,"y":-0.235},{"p":"a3","m":"l","s":"5000 iter","x":0.19,"y":-0.47},{"p":"a3","m":"l","s":"5000 iter","x":0.133,"y":-0.235},{"p":"a3","m":"l","s":"5000 iter","x":0.1,"y":0},{"p":"a3","m":"l","s":"5000 iter","x":0.13,"y":0.19},{"p":"a3","m":"l","s":"5000 iter","x":0.18,"y":0.38},{"p":"a3","m":"l","s":"5000 iter","x":0.224,"y":0.19},{"p":"a3","m":"l","s":"5000 iter","x":0.25,"y":0},{"p":"a3","m":"l","s":"5000 iter","x":0.228,"y":-0.165},{"p":"a3","m":"l","s":"5000 iter","x":0.19,"y":-0.33},{"p":"a3","m":"l","s":"5000 iter","x":0.155,"y":-0.165},{"p":"a3","m":"l","s":"5000 iter","x":0.135,"y":0},{"p":"a3","m":"l","s":"5000 iter","x":0.155,"y":0.125},{"p":"a3","m":"l","s":"5000 iter","x":0.19,"y":0.25},{"p":"a3","m":"l","s":"5000 iter","x":0.218,"y":0.125},{"p":"a3","m":"l","s":"5000 iter","x":0.225,"y":0},{"p":"a3","m":"l","s":"5000 iter","x":0.215,"y":-0.06},{"p":"a3","m":"l","s":"5000 iter","x":0.195,"y":-0.11},
{"p":"a3","m":"l","s":"3000 iter","x":0.05,"y":0.33},{"p":"a3","m":"l","s":"3000 iter","x":0.12,"y":0.5},{"p":"a3","m":"l","s":"3000 iter","x":0.21,"y":0.66},{"p":"a3","m":"l","s":"3000 iter","x":0.305,"y":0.33},{"p":"a3","m":"l","s":"3000 iter","x":0.36,"y":0},{"p":"a3","m":"l","s":"3000 iter","x":0.319,"y":-0.275},{"p":"a3","m":"l","s":"3000 iter","x":0.25,"y":-0.55},{"p":"a3","m":"l","s":"3000 iter","x":0.187,"y":-0.275},{"p":"a3","m":"l","s":"3000 iter","x":0.15,"y":0},{"p":"a3","m":"l","s":"3000 iter","x":0.172,"y":0.21},{"p":"a3","m":"l","s":"3000 iter","x":0.21,"y":0.42},{"p":"a3","m":"l","s":"3000 iter","x":0.273,"y":0.21},{"p":"a3","m":"l","s":"3000 iter","x":0.31,"y":0},{"p":"a3","m":"l","s":"3000 iter","x":0.284,"y":-0.2},{"p":"a3","m":"l","s":"3000 iter","x":0.24,"y":-0.4},{"p":"a3","m":"l","s":"3000 iter","x":0.202,"y":-0.2},{"p":"a3","m":"l","s":"3000 iter","x":0.18,"y":0},{"p":"a3","m":"l","s":"3000 iter","x":0.195,"y":0.14},{"p":"a3","m":"l","s":"3000 iter","x":0.22,"y":0.28},{"p":"a3","m":"l","s":"3000 iter","x":0.25,"y":0.14},{"p":"a3","m":"l","s":"3000 iter","x":0.265,"y":0},{"p":"a3","m":"l","s":"3000 iter","x":0.24,"y":-0.09},
{"p":"a3","m":"l","s":"2 iter","x":0.05,"y":0.33},{"p":"a3","m":"l","s":"2 iter","x":0.12,"y":0.5},{"p":"a3","m":"l","s":"2 iter","x":0.2,"y":0.65},{"p":"a3","m":"l","s":"2 iter","x":0.245,"y":0.83},
{"p":"a3","m":"e","s":"2 iter","x":0.245,"y":0.83},{"p":"a3","m":"e","s":"3000 iter","x":0.24,"y":-0.09},{"p":"a3","m":"e","s":"5000 iter","x":0.195,"y":-0.11},
{"p":"a3","m":"d","s":"Final","x":0,"y":0,"t":0},{"p":"a3","m":"d","s":"Final","x":0.4,"y":0,"t":0.5},{"p":"a3","m":"d","s":"Final","x":0.04,"y":0,"t":0.6},{"p":"a3","m":"d","s":"Final","x":0.4,"y":0,"t":0.7},{"p":"a3","m":"d","s":"Final","x":0.04,"y":0,"t":0.8},{"p":"a3","m":"d","s":"Final","x":0.41,"y":0,"t":0.9},{"p":"a3","m":"d","s":"Final","x":0.035,"y":0,"t":1},
{"p":"a3","m":"d","s":"5000 iter","x":0,"y":0,"t":0},{"p":"a3","m":"d","s":"5000 iter","x":0.38,"y":0,"t":0.2},{"p":"a3","m":"d","s":"5000 iter","x":0.1,"y":0,"t":0.35},{"p":"a3","m":"d","s":"5000 iter","x":0.3,"y":0,"t":0.5},{"p":"a3","m":"d","s":"5000 iter","x":0.14,"y":0,"t":0.65},{"p":"a3","m":"d","s":"5000 iter","x":0.26,"y":0,"t":0.8},{"p":"a3","m":"d","s":"5000 iter","x":0.2,"y":0,"t":1},
{"p":"a3","m":"d","s":"3000 iter","x":0,"y":0,"t":0},{"p":"a3","m":"d","s":"3000 iter","x":0.45,"y":0,"t":0.3},{"p":"a3","m":"d","s":"3000 iter","x":0.13,"y":0,"t":0.5},{"p":"a3","m":"d","s":"3000 iter","x":0.32,"y":0,"t":0.7},{"p":"a3","m":"d","s":"3000 iter","x":0.17,"y":0,"t":0.9},
{"p":"a3","m":"d","s":"2 iter","x":0,"y":0,"t":0},
{"p":"a3","m":"i","lab":"(0.05, 0.39,  0.33)","x":0.05,"y":0.33},

{"p":"a4","m":"l","s":"Final","x":0.05,"y":0.04},{"p":"a4","m":"l","s":"Final","x":0.06,"y":0.17},{"p":"a4","m":"l","s":"Final","x":0.085,"y":0.28},{"p":"a4","m":"l","s":"Final","x":0.12,"y":0.38},{"p":"a4","m":"l","s":"Final","x":0.164,"y":0.19},{"p":"a4","m":"l","s":"Final","x":0.19,"y":0},{"p":"a4","m":"l","s":"Final","x":0.164,"y":-0.21},{"p":"a4","m":"l","s":"Final","x":0.12,"y":-0.42},{"p":"a4","m":"l","s":"Final","x":0.07,"y":-0.21},{"p":"a4","m":"l","s":"Final","x":0.04,"y":0},{"p":"a4","m":"l","s":"Final","x":0.07,"y":0.25},{"p":"a4","m":"l","s":"Final","x":0.12,"y":0.5},{"p":"a4","m":"l","s":"Final","x":0.151,"y":0.375},{"p":"a4","m":"l","s":"Final","x":0.177,"y":0.25},{"p":"a4","m":"l","s":"Final","x":0.201,"y":0.125},{"p":"a4","m":"l","s":"Final","x":0.21,"y":0},{"p":"a4","m":"l","s":"Final","x":0.201,"y":-0.13},{"p":"a4","m":"l","s":"Final","x":0.177,"y":-0.26},{"p":"a4","m":"l","s":"Final","x":0.151,"y":-0.39},{"p":"a4","m":"l","s":"Final","x":0.12,"y":-0.52},{"p":"a4","m":"l","s":"Final","x":0.089,"y":-0.39},{"p":"a4","m":"l","s":"Final","x":0.063,"y":-0.26},{"p":"a4","m":"l","s":"Final","x":0.039,"y":-0.13},{"p":"a4","m":"l","s":"Final","x":0.03,"y":0},{"p":"a4","m":"l","s":"Final","x":0.039,"y":0.13},{"p":"a4","m":"l","s":"Final","x":0.063,"y":0.26},{"p":"a4","m":"l","s":"Final","x":0.089,"y":0.39},{"p":"a4","m":"l","s":"Final","x":0.12,"y":0.52},{"p":"a4","m":"l","s":"Final","x":0.152,"y":0.39},{"p":"a4","m":"l","s":"Final","x":0.18,"y":0.26},{"p":"a4","m":"l","s":"Final","x":0.206,"y":0.13},{"p":"a4","m":"l","s":"Final","x":0.215,"y":0},{"p":"a4","m":"l","s":"Final","x":0.206,"y":-0.13},{"p":"a4","m":"l","s":"Final","x":0.18,"y":-0.26},{"p":"a4","m":"l","s":"Final","x":0.152,"y":-0.39},{"p":"a4","m":"l","s":"Final","x":0.12,"y":-0.52},{"p":"a4","m":"l","s":"Final","x":0.093,"y":-0.39},{"p":"a4","m":"l","s":"Final","x":0.066,"y":-0.26},{"p":"a4","m":"l","s":"Final","x":0.044,"y":-0.13},{"p":"a4","m":"l","s":"Final","x":0.035,"y":0},{"p":"a4","m":"l","s":"Final","x":0.044,"y":0.13},{"p":"a4","m":"l","s":"Final","x":0.066,"y":0.26},{"p":"a4","m":"l","s":"Final","x":0.093,"y":0.39},{"p":"a4","m":"l","s":"Final","x":0.12,"y":0.52},{"p":"a4","m":"l","s":"Final","x":0.149,"y":0.375},{"p":"a4","m":"l","s":"Final","x":0.174,"y":0.25},{"p":"a4","m":"l","s":"Final","x":0.196,"y":0.125},{"p":"a4","m":"l","s":"Final","x":0.205,"y":0},{"p":"a4","m":"l","s":"Final","x":0.196,"y":-0.125},{"p":"a4","m":"l","s":"Final","x":0.174,"y":-0.25},{"p":"a4","m":"l","s":"Final","x":0.149,"y":-0.375},{"p":"a4","m":"l","s":"Final","x":0.12,"y":-0.5},
{"p":"a4","m":"l","s":"5000 iter","x":0.05,"y":0.04},{"p":"a4","m":"l","s":"5000 iter","x":0.065,"y":0.17},{"p":"a4","m":"l","s":"5000 iter","x":0.09,"y":0.25},{"p":"a4","m":"l","s":"5000 iter","x":0.12,"y":0.3},{"p":"a4","m":"l","s":"5000 iter","x":0.161,"y":0.15},{"p":"a4","m":"l","s":"5000 iter","x":0.185,"y":0},{"p":"a4","m":"l","s":"5000 iter","x":0.163,"y":-0.125},{"p":"a4","m":"l","s":"5000 iter","x":0.125,"y":-0.25},{"p":"a4","m":"l","s":"5000 iter","x":0.094,"y":-0.125},{"p":"a4","m":"l","s":"5000 iter","x":0.075,"y":0},{"p":"a4","m":"l","s":"5000 iter","x":0.092,"y":0.105},{"p":"a4","m":"l","s":"5000 iter","x":0.12,"y":0.21},{"p":"a4","m":"l","s":"5000 iter","x":0.145,"y":0.105},{"p":"a4","m":"l","s":"5000 iter","x":0.16,"y":0},{"p":"a4","m":"l","s":"5000 iter","x":0.145,"y":-0.085},{"p":"a4","m":"l","s":"5000 iter","x":0.12,"y":-0.17},{"p":"a4","m":"l","s":"5000 iter","x":0.1,"y":-0.08},{"p":"a4","m":"l","s":"5000 iter","x":0.095,"y":0},{"p":"a4","m":"l","s":"5000 iter","x":0.1,"y":0.08},{"p":"a4","m":"l","s":"5000 iter","x":0.12,"y":0.145},
{"p":"a4","m":"l","s":"3000 iter","x":0.05,"y":0.04},{"p":"a4","m":"l","s":"3000 iter","x":0.065,"y":0.18},{"p":"a4","m":"l","s":"3000 iter","x":0.09,"y":0.29},{"p":"a4","m":"l","s":"3000 iter","x":0.12,"y":0.37},{"p":"a4","m":"l","s":"3000 iter","x":0.183,"y":0.185},{"p":"a4","m":"l","s":"3000 iter","x":0.22,"y":0},{"p":"a4","m":"l","s":"3000 iter","x":0.19,"y":-0.155},{"p":"a4","m":"l","s":"3000 iter","x":0.14,"y":-0.31},{"p":"a4","m":"l","s":"3000 iter","x":0.109,"y":-0.155},{"p":"a4","m":"l","s":"3000 iter","x":0.09,"y":0},{"p":"a4","m":"l","s":"3000 iter","x":0.105,"y":0.125},{"p":"a4","m":"l","s":"3000 iter","x":0.13,"y":0.25},{"p":"a4","m":"l","s":"3000 iter","x":0.18,"y":0.12},{"p":"a4","m":"l","s":"3000 iter","x":0.2,"y":0},{"p":"a4","m":"l","s":"3000 iter","x":0.19,"y":-0.06},{"p":"a4","m":"l","s":"3000 iter","x":0.165,"y":-0.115},
{"p":"a4","m":"l","s":"2 iter","x":0.05,"y":0.04},{"p":"a4","m":"l","s":"2 iter","x":0.07,"y":0.2},{"p":"a4","m":"l","s":"2 iter","x":0.1,"y":0.32},{"p":"a4","m":"l","s":"2 iter","x":0.13,"y":0.43},{"p":"a4","m":"l","s":"2 iter","x":0.16,"y":0.5},{"p":"a4","m":"l","s":"2 iter","x":0.2,"y":0.38},{"p":"a4","m":"l","s":"2 iter","x":0.24,"y":0.24},{"p":"a4","m":"l","s":"2 iter","x":0.27,"y":0.1},{"p":"a4","m":"l","s":"2 iter","x":0.285,"y":0},{"p":"a4","m":"l","s":"2 iter","x":0.28,"y":-0.06},{"p":"a4","m":"l","s":"2 iter","x":0.273,"y":-0.115},
{"p":"a4","m":"e","s":"2 iter","x":0.273,"y":-0.115},{"p":"a4","m":"e","s":"3000 iter","x":0.165,"y":-0.115},{"p":"a4","m":"e","s":"5000 iter","x":0.12,"y":0.145},
{"p":"a4","m":"d","s":"Final","x":0,"y":0,"t":0},{"p":"a4","m":"d","s":"Final","x":0.29,"y":0,"t":0.3},{"p":"a4","m":"d","s":"Final","x":-0.058,"y":0,"t":0.4},{"p":"a4","m":"d","s":"Final","x":0.29,"y":0,"t":0.6},{"p":"a4","m":"d","s":"Final","x":-0.058,"y":0,"t":0.7},{"p":"a4","m":"d","s":"Final","x":0.29,"y":0,"t":0.85},{"p":"a4","m":"d","s":"Final","x":-0.058,"y":0,"t":0.95},
{"p":"a4","m":"d","s":"5000 iter","x":0,"y":0,"t":0},{"p":"a4","m":"d","s":"5000 iter","x":0.2,"y":0,"t":0.3},{"p":"a4","m":"d","s":"5000 iter","x":0.075,"y":0,"t":0.6},{"p":"a4","m":"d","s":"5000 iter","x":0.18,"y":0,"t":0.9},
{"p":"a4","m":"d","s":"3000 iter","x":0,"y":0,"t":0},{"p":"a4","m":"d","s":"3000 iter","x":0.26,"y":0,"t":0.3},{"p":"a4","m":"d","s":"3000 iter","x":0.075,"y":0,"t":0.6},{"p":"a4","m":"d","s":"3000 iter","x":0.2,"y":0,"t":0.9},
{"p":"a4","m":"d","s":"2 iter","x":0,"y":0,"t":0},{"p":"a4","m":"d","s":"2 iter","x":0.33,"y":0,"t":0.5},
{"p":"a4","m":"i","lab":"(0.05, 0.26,  0.04)","x":0.05,"y":0.04},

{"p":"b3","m":"l","s":"Final","x":0.06,"y":-0.06},{"p":"b3","m":"l","s":"Final","x":0.045,"y":-0.2},{"p":"b3","m":"l","s":"Final","x":0.03,"y":-0.33},{"p":"b3","m":"l","s":"Final","x":-0.005,"y":-0.49},{"p":"b3","m":"l","s":"Final","x":-0.05,"y":-0.65},{"p":"b3","m":"l","s":"Final","x":-0.098,"y":-0.49},{"p":"b3","m":"l","s":"Final","x":-0.138,"y":-0.325},{"p":"b3","m":"l","s":"Final","x":-0.176,"y":-0.16},{"p":"b3","m":"l","s":"Final","x":-0.19,"y":0},{"p":"b3","m":"l","s":"Final","x":-0.176,"y":0.166},{"p":"b3","m":"l","s":"Final","x":-0.139,"y":0.333},{"p":"b3","m":"l","s":"Final","x":-0.1,"y":0.5},{"p":"b3","m":"l","s":"Final","x":-0.053,"y":0.665},{"p":"b3","m":"l","s":"Final","x":-0.006,"y":0.5},{"p":"b3","m":"l","s":"Final","x":0.035,"y":0.333},{"p":"b3","m":"l","s":"Final","x":0.072,"y":0.166},{"p":"b3","m":"l","s":"Final","x":0.086,"y":0},{"p":"b3","m":"l","s":"Final","x":0.072,"y":-0.17},{"p":"b3","m":"l","s":"Final","x":0.037,"y":-0.34},{"p":"b3","m":"l","s":"Final","x":-0.002,"y":-0.51},{"p":"b3","m":"l","s":"Final","x":-0.047,"y":-0.68},{"p":"b3","m":"l","s":"Final","x":-0.091,"y":-0.51},{"p":"b3","m":"l","s":"Final","x":-0.128,"y":-0.34},{"p":"b3","m":"l","s":"Final","x":-0.162,"y":-0.17},{"p":"b3","m":"l","s":"Final","x":-0.175,"y":0},{"p":"b3","m":"l","s":"Final","x":-0.163,"y":0.15},{"p":"b3","m":"l","s":"Final","x":-0.129,"y":0.3},{"p":"b3","m":"l","s":"Final","x":-0.092,"y":0.45},{"p":"b3","m":"l","s":"Final","x":-0.05,"y":0.6},{"p":"b3","m":"l","s":"Final","x":-0.008,"y":0.45},{"p":"b3","m":"l","s":"Final","x":0.029,"y":0.3},{"p":"b3","m":"l","s":"Final","x":0.063,"y":0.15},{"p":"b3","m":"l","s":"Final","x":0.075,"y":0},{"p":"b3","m":"l","s":"Final","x":0.063,"y":-0.155},{"p":"b3","m":"l","s":"Final","x":0.031,"y":-0.31},{"p":"b3","m":"l","s":"Final","x":-0.005,"y":-0.465},{"p":"b3","m":"l","s":"Final","x":-0.045,"y":-0.62},{"p":"b3","m":"l","s":"Final","x":-0.084,"y":-0.465},{"p":"b3","m":"l","s":"Final","x":-0.118,"y":-0.31},{"p":"b3","m":"l","s":"Final","x":-0.149,"y":-0.155},{"p":"b3","m":"l","s":"Final","x":-0.16,"y":0},{"p":"b3","m":"l","s":"Final","x":-0.15,"y":0.14},{"p":"b3","m":"l","s":"Final","x":-0.121,"y":0.28},{"p":"b3","m":"l","s":"Final","x":-0.091,"y":0.42},{"p":"b3","m":"l","s":"Final","x":-0.055,"y":0.56},{"p":"b3","m":"l","s":"Final","x":-0.013,"y":0.42},{"p":"b3","m":"l","s":"Final","x":0.024,"y":0.28},{"p":"b3","m":"l","s":"Final","x":0.058,"y":0.14},{"p":"b3","m":"l","s":"Final","x":0.07,"y":0},{"p":"b3","m":"l","s":"Final","x":0.058,"y":-0.15},{"p":"b3","m":"l","s":"Final","x":0.026,"y":-0.3},{"p":"b3","m":"l","s":"Final","x":-0.009,"y":-0.45},{"p":"b3","m":"l","s":"Final","x":-0.05,"y":-0.6},{"p":"b3","m":"l","s":"Final","x":-0.091,"y":-0.45},{"p":"b3","m":"l","s":"Final","x":-0.126,"y":-0.3},{"p":"b3","m":"l","s":"Final","x":-0.158,"y":-0.15},{"p":"b3","m":"l","s":"Final","x":-0.17,"y":0},{"p":"b3","m":"l","s":"Final","x":-0.158,"y":0.155},{"p":"b3","m":"l","s":"Final","x":-0.126,"y":0.31},{"p":"b3","m":"l","s":"Final","x":-0.091,"y":0.465},{"p":"b3","m":"l","s":"Final","x":-0.05,"y":0.62},
{"p":"b3","m":"l","s":"5000 iter","x":0.06,"y":-0.06},{"p":"b3","m":"l","s":"5000 iter","x":0.065,"y":0.05},{"p":"b3","m":"l","s":"5000 iter","x":0.075,"y":0.14},{"p":"b3","m":"l","s":"5000 iter","x":0.09,"y":0.22},{"p":"b3","m":"l","s":"5000 iter","x":0.109,"y":0.11},{"p":"b3","m":"l","s":"5000 iter","x":0.12,"y":0},{"p":"b3","m":"l","s":"5000 iter","x":0.102,"y":-0.09},{"p":"b3","m":"l","s":"5000 iter","x":0.07,"y":-0.19},{"p":"b3","m":"l","s":"5000 iter","x":0.075,"y":-0.08},{"p":"b3","m":"l","s":"5000 iter","x":0.08,"y":0.03},{"p":"b3","m":"l","s":"5000 iter","x":0.095,"y":0.14},
{"p":"b3","m":"l","s":"3000 iter","x":0.06,"y":-0.06},{"p":"b3","m":"l","s":"3000 iter","x":0.065,"y":0.06},{"p":"b3","m":"l","s":"3000 iter","x":0.078,"y":0.16},{"p":"b3","m":"l","s":"3000 iter","x":0.095,"y":0.25},{"p":"b3","m":"l","s":"3000 iter","x":0.115,"y":0.15},{"p":"b3","m":"l","s":"3000 iter","x":0.127,"y":0.05},{"p":"b3","m":"l","s":"3000 iter","x":0.133,"y":-0.03},{"p":"b3","m":"l","s":"3000 iter","x":0.133,"y":-0.107},
{"p":"b3","m":"l","s":"2 iter","x":0.06,"y":-0.06},{"p":"b3","m":"l","s":"2 iter","x":0.065,"y":0.05},{"p":"b3","m":"l","s":"2 iter","x":0.08,"y":0.16},{"p":"b3","m":"l","s":"2 iter","x":0.105,"y":0.29},{"p":"b3","m":"l","s":"2 iter","x":0.15,"y":0.2},{"p":"b3","m":"l","s":"2 iter","x":0.19,"y":0.11},{"p":"b3","m":"l","s":"2 iter","x":0.21,"y":0.075},{"p":"b3","m":"l","s":"2 iter","x":0.235,"y":0.12},
{"p":"b3","m":"e","s":"2 iter","x":0.235,"y":0.12},{"p":"b3","m":"e","s":"3000 iter","x":0.133,"y":-0.107},{"p":"b3","m":"e","s":"5000 iter","x":0.095,"y":0.14},
{"p":"b3","m":"d","s":"Final","x":0,"y":0,"t":0},{"p":"b3","m":"d","s":"Final","x":-0.29,"y":0,"t":0.1},{"p":"b3","m":"d","s":"Final","x":-0.26,"y":0,"t":0.3},{"p":"b3","m":"d","s":"Final","x":0.137,"y":0,"t":0.5},{"p":"b3","m":"d","s":"Final","x":-0.23,"y":0,"t":0.7},{"p":"b3","m":"d","s":"Final","x":0.137,"y":0,"t":0.8},{"p":"b3","m":"d","s":"Final","x":-0.23,"y":0,"t":0.95},
{"p":"b3","m":"d","s":"5000 iter","x":0,"y":0,"t":0},{"p":"b3","m":"d","s":"5000 iter","x":0.035,"y":0,"t":0.3},{"p":"b3","m":"d","s":"5000 iter","x":0.157,"y":0,"t":0.8},
{"p":"b3","m":"d","s":"3000 iter","x":0,"y":0,"t":0},{"p":"b3","m":"d","s":"3000 iter","x":0.17,"y":0,"t":0.4},
{"p":"b3","m":"d","s":"2 iter","x":0,"y":0,"t":0},{"p":"b3","m":"d","s":"2 iter","x":0.2,"y":0,"t":1},
{"p":"b3","m":"i","lab":"(0.06, 0.24, -0.06)","x":0.06,"y":-0.06},

{"p":"b4","m":"l","s":"Final","x":0.06,"y":-0.07},{"p":"b4","m":"l","s":"Final","x":0.045,"y":-0.27},{"p":"b4","m":"l","s":"Final","x":0.03,"y":-0.4},{"p":"b4","m":"l","s":"Final","x":0.01,"y":-0.54},{"p":"b4","m":"l","s":"Final","x":-0.027,"y":-0.405},{"p":"b4","m":"l","s":"Final","x":-0.059,"y":-0.27},{"p":"b4","m":"l","s":"Final","x":-0.089,"y":-0.135},{"p":"b4","m":"l","s":"Final","x":-0.1,"y":0},{"p":"b4","m":"l","s":"Final","x":-0.089,"y":0.132},{"p":"b4","m":"l","s":"Final","x":-0.059,"y":0.264},{"p":"b4","m":"l","s":"Final","x":-0.027,"y":0.395},{"p":"b4","m":"l","s":"Final","x":0.01,"y":0.527},{"p":"b4","m":"l","s":"Final","x":0.053,"y":0.395},{"p":"b4","m":"l","s":"Final","x":0.089,"y":0.264},{"p":"b4","m":"l","s":"Final","x":0.123,"y":0.132},{"p":"b4","m":"l","s":"Final","x":0.135,"y":0},{"p":"b4","m":"l","s":"Final","x":0.123,"y":-0.137},{"p":"b4","m":"l","s":"Final","x":0.089,"y":-0.273},{"p":"b4","m":"l","s":"Final","x":0.053,"y":-0.41},{"p":"b4","m":"l","s":"Final","x":0.01,"y":-0.546},{"p":"b4","m":"l","s":"Final","x":-0.024,"y":-0.41},{"p":"b4","m":"l","s":"Final","x":-0.053,"y":-0.273},{"p":"b4","m":"l","s":"Final","x":-0.08,"y":-0.137},{"p":"b4","m":"l","s":"Final","x":-0.09,"y":0},{"p":"b4","m":"l","s":"Final","x":-0.08,"y":0.128},{"p":"b4","m":"l","s":"Final","x":-0.053,"y":0.255},{"p":"b4","m":"l","s":"Final","x":-0.024,"y":0.383},{"p":"b4","m":"l","s":"Final","x":0.01,"y":0.51},{"p":"b4","m":"l","s":"Final","x":0.051,"y":0.383},{"p":"b4","m":"l","s":"Final","x":0.086,"y":0.255},{"p":"b4","m":"l","s":"Final","x":0.118,"y":0.128},{"p":"b4","m":"l","s":"Final","x":0.13,"y":0},{"p":"b4","m":"l","s":"Final","x":0.118,"y":-0.133},{"p":"b4","m":"l","s":"Final","x":0.086,"y":-0.265},{"p":"b4","m":"l","s":"Final","x":0.051,"y":-0.4},{"p":"b4","m":"l","s":"Final","x":0.01,"y":-0.53},{"p":"b4","m":"l","s":"Final","x":-0.024,"y":-0.4},{"p":"b4","m":"l","s":"Final","x":-0.055,"y":-0.265},{"p":"b4","m":"l","s":"Final","x":-0.084,"y":-0.133},{"p":"b4","m":"l","s":"Final","x":-0.095,"y":0},{"p":"b4","m":"l","s":"Final","x":-0.084,"y":0.13},{"p":"b4","m":"l","s":"Final","x":-0.055,"y":0.26},{"p":"b4","m":"l","s":"Final","x":-0.024,"y":0.39},{"p":"b4","m":"l","s":"Final","x":0.012,"y":0.52},
{"p":"b4","m":"l","s":"5000 iter","x":0.06,"y":-0.07},{"p":"b4","m":"l","s":"5000 iter","x":0.062,"y":0.05},{"p":"b4","m":"l","s":"5000 iter","x":0.07,"y":0.15},{"p":"b4","m":"l","s":"5000 iter","x":0.083,"y":0.236},{"p":"b4","m":"l","s":"5000 iter","x":0.113,"y":0.118},{"p":"b4","m":"l","s":"5000 iter","x":0.13,"y":0},{"p":"b4","m":"l","s":"5000 iter","x":0.112,"y":-0.125},{"p":"b4","m":"l","s":"5000 iter","x":0.08,"y":-0.25},{"p":"b4","m":"l","s":"5000 iter","x":0.052,"y":-0.125},{"p":"b4","m":"l","s":"5000 iter","x":0.035,"y":0},{"p":"b4","m":"l","s":"5000 iter","x":0.05,"y":0.1},{"p":"b4","m":"l","s":"5000 iter","x":0.075,"y":0.2},{"p":"b4","m":"l","s":"5000 iter","x":0.095,"y":0.1},{"p":"b4","m":"l","s":"5000 iter","x":0.1,"y":0},{"p":"b4","m":"l","s":"5000 iter","x":0.095,"y":-0.07},{"p":"b4","m":"l","s":"5000 iter","x":0.086,"y":-0.14},
{"p":"b4","m":"l","s":"3000 iter","x":0.06,"y":-0.07},{"p":"b4","m":"l","s":"3000 iter","x":0.064,"y":0.06},{"p":"b4","m":"l","s":"3000 iter","x":0.078,"y":0.18},{"p":"b4","m":"l","s":"3000 iter","x":0.1,"y":0.27},{"p":"b4","m":"l","s":"3000 iter","x":0.128,"y":0.135},{"p":"b4","m":"l","s":"3000 iter","x":0.145,"y":0},{"p":"b4","m":"l","s":"3000 iter","x":0.131,"y":-0.112},{"p":"b4","m":"l","s":"3000 iter","x":0.106,"y":-0.224},{"p":"b4","m":"l","s":"3000 iter","x":0.08,"y":-0.112},{"p":"b4","m":"l","s":"3000 iter","x":0.065,"y":0},{"p":"b4","m":"l","s":"3000 iter","x":0.076,"y":0.1},{"p":"b4","m":"l","s":"3000 iter","x":0.095,"y":0.2},{"p":"b4","m":"l","s":"3000 iter","x":0.11,"y":0.08},{"p":"b4","m":"l","s":"3000 iter","x":0.115,"y":0},{"p":"b4","m":"l","s":"3000 iter","x":0.109,"y":-0.075},
{"p":"b4","m":"l","s":"2 iter","x":0.06,"y":-0.07},{"p":"b4","m":"l","s":"2 iter","x":0.065,"y":0.06},{"p":"b4","m":"l","s":"2 iter","x":0.08,"y":0.17},{"p":"b4","m":"l","s":"2 iter","x":0.1,"y":0.25},{"p":"b4","m":"l","s":"2 iter","x":0.117,"y":0.31},{"p":"b4","m":"l","s":"2 iter","x":0.145,"y":0.22},{"p":"b4","m":"l","s":"2 iter","x":0.17,"y":0.13},{"p":"b4","m":"l","s":"2 iter","x":0.197,"y":0.037},{"p":"b4","m":"l","s":"2 iter","x":0.212,"y":-0.005},
{"p":"b4","m":"e","s":"2 iter","x":0.212,"y":-0.005},{"p":"b4","m":"e","s":"3000 iter","x":0.109,"y":-0.075},{"p":"b4","m":"e","s":"5000 iter","x":0.086,"y":-0.14},
{"p":"b4","m":"d","s":"Final","x":0,"y":0,"t":0},{"p":"b4","m":"d","s":"Final","x":0.19,"y":0,"t":0.4},{"p":"b4","m":"d","s":"Final","x":-0.167,"y":0,"t":0.5},{"p":"b4","m":"d","s":"Final","x":0.19,"y":0,"t":0.7},{"p":"b4","m":"d","s":"Final","x":-0.167,"y":0,"t":0.8},{"p":"b4","m":"d","s":"Final","x":0.19,"y":0,"t":0.95},
{"p":"b4","m":"d","s":"5000 iter","x":0,"y":0,"t":0},{"p":"b4","m":"d","s":"5000 iter","x":0.023,"y":0,"t":0.3},{"p":"b4","m":"d","s":"5000 iter","x":0.13,"y":0,"t":0.8},
{"p":"b4","m":"d","s":"3000 iter","x":0,"y":0,"t":0},{"p":"b4","m":"d","s":"3000 iter","x":0.145,"y":0,"t":0.5},
{"p":"b4","m":"d","s":"2 iter","x":0,"y":0,"t":0},{"p":"b4","m":"d","s":"2 iter","x":0.21,"y":0,"t":1},
{"p":"b4","m":"i","lab":"(0.06, 0.20, -0.07)","x":0.06,"y":-0.07}
]},
"spacing":32,
"vconcat":[
{"title":{"text":"(a) push outward","orient":"bottom","anchor":"middle","offset":7,"dx":18,"fontSize":18},
 "spacing":28,
 "hconcat":[
  {"spacing":-2,"vconcat":[
   {"width":253,"height":107,"data":{"name":"all"},"transform":[{"filter":"datum.p=='a1'"}],
    "encoding":{
     "x":{"field":"x","type":"quantitative","scale":{"domain":[-0.1,2.15],"nice":false,"zero":false},"axis":{"title":"x","values":[-0.1,0,0.1,0.2,0.3,0.4,0.5,0.6,0.7,0.8,0.9,1,1.1,1.2,1.3,1.4,1.5,1.6,1.7,1.8,1.9,2,2.1],"labelExpr":"abs(datum.value*2-round(datum.value*2))<0.001?replace(format(datum.value,'~g'),'−','-'):''","gridDash":{"condition":{"test":"abs(datum.value*2-round(datum.value*2))<0.001","value":[]},"value":[1,2]},"gridColor":{"condition":{"test":"abs(datum.value*2-round(datum.value*2))<0.001","value":"#d4d4d4"},"value":"#c4c4c4"},"titlePadding":3}},
     "y":{"field":"y","type":"quantitative","scale":{"domain":[-0.15,0.8],"nice":false,"zero":false},"axis":{"title":"ẋ","values":[-0.15,-0.1,-0.05,0,0.05,0.1,0.15,0.2,0.25,0.3,0.35,0.4,0.45,0.5,0.55,0.6,0.65,0.7,0.75,0.8],"labelExpr":"abs(datum.value*5-round(datum.value*5))<0.001?replace(format(datum.value,'~g'),'−','-'):''","gridDash":{"condition":{"test":"abs(datum.value*5-round(datum.value*5))<0.001","value":[]},"value":[1,2]},"gridColor":{"condition":{"test":"abs(datum.value*5-round(datum.value*5))<0.001","value":"#d4d4d4"},"value":"#c4c4c4"},"titlePadding":3}}},
    "layer":[
     {"transform":[{"filter":"datum.m=='l'"}],"mark":{"type":"line","strokeWidth":1.7,"clip":true},
      "encoding":{
       "stroke":{"field":"s","type":"nominal","title":"CoM path","scale":{"domain":["2 iter","3000 iter","5000 iter","Final"],"range":["#ff1f1f","#7b55dd","#4cc2bb","#d6609e"]},"legend":{"orient":"none","legendX":19,"legendY":-73,"columns":2,"symbolType":"M56,0L83,0M86,-4L86,4M82,0L90,0M83.2,-2.8L88.8,2.8M83.2,2.8L88.8,-2.8","symbolSize":4,"symbolStrokeWidth":2,"labelOffset":2,"columnPadding":0,"rowPadding":0,"titlePadding":4,"titleAnchor":"middle","titleAlign":"left","padding":0}},
       "strokeDash":{"field":"s","type":"nominal","title":"CoM path","scale":{"domain":["2 iter","3000 iter","5000 iter","Final"],"range":[[7,3,2,3],[2,2.5],[7,4],[1,0]]},"legend":{"orient":"none","legendX":19,"legendY":-73,"columns":2,"symbolType":"M56,0L83,0M86,-4L86,4M82,0L90,0M83.2,-2.8L88.8,2.8M83.2,2.8L88.8,-2.8","symbolSize":4,"symbolStrokeWidth":2,"labelOffset":2,"columnPadding":0,"rowPadding":0,"titlePadding":4,"titleAnchor":"middle","titleAlign":"left","padding":0}},
       "order":{"value":null}}},
     {"transform":[{"filter":"datum.m=='d'"}],"mark":{"type":"point","shape":"M0,-1.25L0.8,0L0,1.25L-0.8,0Z","filled":true,"strokeWidth":0},
      "encoding":{
       "fill":{"field":"s","type":"nominal","title":"Step position","scale":{"domain":["2 iter","3000 iter","_a","5000 iter","Final","_b"],"range":["#ff1f1f","#7b55dd","rgba(0,0,0,0)","#4cc2bb","#d6609e","rgba(0,0,0,0)"]},"legend":{"orient":"none","legendX":256,"legendY":-73,"columns":2,"symbolType":"M-2.2,0L0,-4L2.2,0L0,4Z M7.8,0L10,-4L12.2,0L10,4Z M17.8,0L20,-4L22.2,0L20,4Z","symbolSize":4,"symbolStrokeWidth":0,"labelExpr":"''","labelOffset":0,"columnPadding":15,"rowPadding":1,"titlePadding":4,"titleAnchor":"middle","padding":0}},
       "opacity":{"field":"t","type":"quantitative","scale":{"domain":[0,1],"range":[0.3,1]},"legend":{"orient":"none","legendX":28,"legendY":-78,"values":[1],"title":null,"symbolType":"M0,0L316,51","symbolSize":4,"symbolFillColor":"transparent","symbolStrokeColor":"transparent","symbolStrokeWidth":0,"labelExpr":"''","labelOffset":0,"strokeColor":"#222","padding":0}},
       "size":{"condition":{"test":"datum.s=='2 iter'||datum.t==0","value":110},"value":64}}},
     {"transform":[{"filter":"datum.m=='e'"}],"mark":{"type":"point","shape":"M-1,0L1,0M0,-1L0,1M-0.7,-0.7L0.7,0.7M-0.7,0.7L0.7,-0.7","filled":false,"strokeWidth":2,"size":40,"opacity":1},
      "encoding":{"stroke":{"field":"s","type":"nominal","title":"CoM path","scale":{"domain":["2 iter","3000 iter","5000 iter","Final"],"range":["#ff1f1f","#7b55dd","#4cc2bb","#d6609e"]}}}},
     {"transform":[{"filter":"datum.m=='i'"}],"mark":{"type":"point","shape":"circle","filled":true,"size":60,"opacity":1,"stroke":"#444","strokeWidth":1},
      "encoding":{"color":{"field":"lab","type":"nominal","title":"Post impulse state","scale":{"domain":["(0.05, 0.39,  0.33)","(0.05, 0.26,  0.04)","(0.06, 0.24, -0.06)","(0.06, 0.20, -0.07)"],"range":["#ffa500","#a57af0","#3aa33a","#3cb6ef"]},"legend":{"orient":"none","legendX":379,"legendY":-78,"columns":2,"symbolType":"circle","symbolSize":42,"labelOffset":7,"labelFontSize":13,"columnPadding":15,"rowPadding":1,"titlePadding":3,"titleAnchor":"middle","strokeColor":"#222","padding":4}}}}
    ]},
   {"width":253,"height":106,"data":{"name":"all"},"transform":[{"filter":"datum.p=='a2'"}],
    "encoding":{
     "x":{"field":"x","type":"quantitative","scale":{"domain":[-0.1,2.15],"nice":false,"zero":false},"axis":{"title":"x","values":[-0.1,0,0.1,0.2,0.3,0.4,0.5,0.6,0.7,0.8,0.9,1,1.1,1.2,1.3,1.4,1.5,1.6,1.7,1.8,1.9,2,2.1],"labelExpr":"abs(datum.value*2-round(datum.value*2))<0.001?replace(format(datum.value,'~g'),'−','-'):''","gridDash":{"condition":{"test":"abs(datum.value*2-round(datum.value*2))<0.001","value":[]},"value":[1,2]},"gridColor":{"condition":{"test":"abs(datum.value*2-round(datum.value*2))<0.001","value":"#d4d4d4"},"value":"#c4c4c4"},"titlePadding":3}},
     "y":{"field":"y","type":"quantitative","scale":{"domain":[-0.15,0.8],"nice":false,"zero":false},"axis":{"title":"ẋ","values":[-0.15,-0.1,-0.05,0,0.05,0.1,0.15,0.2,0.25,0.3,0.35,0.4,0.45,0.5,0.55,0.6,0.65,0.7,0.75,0.8],"labelExpr":"abs(datum.value*5-round(datum.value*5))<0.001?replace(format(datum.value,'~g'),'−','-'):''","gridDash":{"condition":{"test":"abs(datum.value*5-round(datum.value*5))<0.001","value":[]},"value":[1,2]},"gridColor":{"condition":{"test":"abs(datum.value*5-round(datum.value*5))<0.001","value":"#d4d4d4"},"value":"#c4c4c4"},"titlePadding":3}}},
    "layer":[
     {"transform":[{"filter":"datum.m=='l'"}],"mark":{"type":"line","strokeWidth":1.7,"clip":true},
      "encoding":{
       "stroke":{"field":"s","type":"nominal","title":"CoM path","scale":{"domain":["2 iter","3000 iter","5000 iter","Final"],"range":["#ff1f1f","#7b55dd","#4cc2bb","#d6609e"]}},
       "strokeDash":{"field":"s","type":"nominal","title":"CoM path","scale":{"domain":["2 iter","3000 iter","5000 iter","Final"],"range":[[7,3,2,3],[2,2.5],[7,4],[1,0]]}},
       "order":{"value":null}}},
     {"transform":[{"filter":"datum.m=='d'"}],"mark":{"type":"point","shape":"M0,-1.25L0.8,0L0,1.25L-0.8,0Z","filled":true,"strokeWidth":0},
      "encoding":{
       "fill":{"field":"s","type":"nominal","title":"Step position","scale":{"domain":["2 iter","3000 iter","_a","5000 iter","Final","_b"],"range":["#ff1f1f","#7b55dd","rgba(0,0,0,0)","#4cc2bb","#d6609e","rgba(0,0,0,0)"]}},
       "opacity":{"field":"t","type":"quantitative","scale":{"domain":[0,1],"range":[0.3,1]}},
       "size":{"condition":{"test":"datum.s=='2 iter'||datum.t==0","value":110},"value":64}}},
     {"transform":[{"filter":"datum.m=='e'"}],"mark":{"type":"point","shape":"M-1,0L1,0M0,-1L0,1M-0.7,-0.7L0.7,0.7M-0.7,0.7L0.7,-0.7","filled":false,"strokeWidth":2,"size":40,"opacity":1},
      "encoding":{"stroke":{"field":"s","type":"nominal","title":"CoM path","scale":{"domain":["2 iter","3000 iter","5000 iter","Final"],"range":["#ff1f1f","#7b55dd","#4cc2bb","#d6609e"]}}}},
     {"transform":[{"filter":"datum.m=='i'"}],"mark":{"type":"point","shape":"circle","filled":true,"size":60,"opacity":1,"stroke":"#444","strokeWidth":1},
      "encoding":{"color":{"field":"lab","type":"nominal","title":"Post impulse state","scale":{"domain":["(0.05, 0.39,  0.33)","(0.05, 0.26,  0.04)","(0.06, 0.24, -0.06)","(0.06, 0.20, -0.07)"],"range":["#ffa500","#a57af0","#3aa33a","#3cb6ef"]}}}}
    ]}
  ]},
  {"spacing":23,"hconcat":[
   {"width":117,"height":257,"data":{"name":"all"},"transform":[{"filter":"datum.p=='a3'"}],
    "encoding":{
     "x":{"field":"x","type":"quantitative","scale":{"domain":[-0.15,0.595],"nice":false,"zero":false},"axis":{"title":"y","values":[-0.15,-0.1,-0.05,0,0.05,0.1,0.15,0.2,0.25,0.3,0.35,0.4,0.45,0.5,0.55],"labelExpr":"abs(datum.value*5-round(datum.value*5))<0.001?replace(format(datum.value,'~g'),'−','-'):''","gridDash":{"condition":{"test":"abs(datum.value*5-round(datum.value*5))<0.001","value":[]},"value":[1,2]},"gridColor":{"condition":{"test":"abs(datum.value*5-round(datum.value*5))<0.001","value":"#d4d4d4"},"value":"#c4c4c4"},"labelPadding":7,"titlePadding":3}},
     "y":{"field":"y","type":"quantitative","scale":{"domain":[-0.7,0.96],"nice":false,"zero":false},"axis":{"title":"ẏ","values":[-0.7,-0.65,-0.6,-0.55,-0.5,-0.45,-0.4,-0.35,-0.3,-0.25,-0.2,-0.15,-0.1,-0.05,0,0.05,0.1,0.15,0.2,0.25,0.3,0.35,0.4,0.45,0.5,0.55,0.6,0.65,0.7,0.75,0.8,0.85,0.9,0.95],"labelExpr":"abs(datum.value*5-round(datum.value*5))<0.001?replace(format(datum.value,'~g'),'−','-'):''","gridDash":{"condition":{"test":"abs(datum.value*5-round(datum.value*5))<0.001","value":[]},"value":[1,2]},"gridColor":{"condition":{"test":"abs(datum.value*5-round(datum.value*5))<0.001","value":"#d4d4d4"},"value":"#c4c4c4"},"titlePadding":4}}},
    "layer":[
     {"transform":[{"filter":"datum.m=='l'&&datum.s=='Final'"}],"mark":{"type":"line","strokeWidth":5,"opacity":0.55,"clip":true},
      "encoding":{
       "stroke":{"field":"s","type":"nominal","title":"CoM path","scale":{"domain":["2 iter","3000 iter","5000 iter","Final"],"range":["#ff1f1f","#7b55dd","#4cc2bb","#d6609e"]}},
       "strokeDash":{"field":"s","type":"nominal","title":"CoM path","scale":{"domain":["2 iter","3000 iter","5000 iter","Final"],"range":[[7,3,2,3],[2,2.5],[7,4],[1,0]]}},
       "order":{"value":null}}},
     {"transform":[{"filter":"datum.m=='l'&&datum.s!='Final'"}],"mark":{"type":"line","strokeWidth":2.2,"clip":true},
      "encoding":{
       "stroke":{"field":"s","type":"nominal","title":"CoM path","scale":{"domain":["2 iter","3000 iter","5000 iter","Final"],"range":["#ff1f1f","#7b55dd","#4cc2bb","#d6609e"]}},
       "strokeDash":{"field":"s","type":"nominal","title":"CoM path","scale":{"domain":["2 iter","3000 iter","5000 iter","Final"],"range":[[7,3,2,3],[2,2.5],[7,4],[1,0]]}},
       "order":{"value":null}}},
     {"transform":[{"filter":"datum.m=='d'"}],"mark":{"type":"point","shape":"M0,-1.25L0.8,0L0,1.25L-0.8,0Z","filled":true,"strokeWidth":0},
      "encoding":{
       "fill":{"field":"s","type":"nominal","title":"Step position","scale":{"domain":["2 iter","3000 iter","_a","5000 iter","Final","_b"],"range":["#ff1f1f","#7b55dd","rgba(0,0,0,0)","#4cc2bb","#d6609e","rgba(0,0,0,0)"]}},
       "opacity":{"field":"t","type":"quantitative","scale":{"domain":[0,1],"range":[0.3,1]}},
       "size":{"condition":{"test":"datum.s=='2 iter'","value":90},"value":64}}},
     {"transform":[{"filter":"datum.m=='e'"}],"mark":{"type":"point","shape":"M-1,0L1,0M0,-1L0,1M-0.7,-0.7L0.7,0.7M-0.7,0.7L0.7,-0.7","filled":false,"strokeWidth":2,"size":40,"opacity":1},
      "encoding":{"stroke":{"field":"s","type":"nominal","title":"CoM path","scale":{"domain":["2 iter","3000 iter","5000 iter","Final"],"range":["#ff1f1f","#7b55dd","#4cc2bb","#d6609e"]}}}},
     {"transform":[{"filter":"datum.m=='i'"}],"mark":{"type":"point","shape":"circle","filled":true,"size":90,"opacity":1,"stroke":"#444","strokeWidth":1},
      "encoding":{"color":{"field":"lab","type":"nominal","title":"Post impulse state","scale":{"domain":["(0.05, 0.39,  0.33)","(0.05, 0.26,  0.04)","(0.06, 0.24, -0.06)","(0.06, 0.20, -0.07)"],"range":["#ffa500","#a57af0","#3aa33a","#3cb6ef"]}}}}
    ]},
   {"width":128,"height":248,"data":{"name":"all"},"transform":[{"filter":"datum.p=='a4'"}],
    "encoding":{
     "x":{"field":"x","type":"quantitative","scale":{"domain":[-0.2,0.4],"nice":false,"zero":false},"axis":{"title":"y","values":[-0.2,-0.15,-0.1,-0.05,0,0.05,0.1,0.15,0.2,0.25,0.3,0.35,0.4],"labelExpr":"abs(datum.value*5-round(datum.value*5))<0.001?replace(format(datum.value,'~g'),'−','-'):''","gridDash":{"condition":{"test":"abs(datum.value*5-round(datum.value*5))<0.001","value":[]},"value":[1,2]},"gridColor":{"condition":{"test":"abs(datum.value*5-round(datum.value*5))<0.001","value":"#d4d4d4"},"value":"#c4c4c4"},"labelPadding":7,"titlePadding":3}},
     "y":{"field":"y","type":"quantitative","scale":{"domain":[-0.6,0.57],"nice":false,"zero":false},"axis":{"title":null,"values":[-0.6,-0.55,-0.5,-0.45,-0.4,-0.35,-0.3,-0.25,-0.2,-0.15,-0.1,-0.05,0,0.05,0.1,0.15,0.2,0.25,0.3,0.35,0.4,0.45,0.5,0.55],"labelExpr":"abs(datum.value*5-round(datum.value*5))<0.001?replace(format(datum.value,'~g'),'−','-'):''","gridDash":{"condition":{"test":"abs(datum.value*5-round(datum.value*5))<0.001","value":[]},"value":[1,2]},"gridColor":{"condition":{"test":"abs(datum.value*5-round(datum.value*5))<0.001","value":"#d4d4d4"},"value":"#c4c4c4"}}}},
    "layer":[
     {"transform":[{"filter":"datum.m=='l'&&datum.s=='Final'"}],"mark":{"type":"line","strokeWidth":5,"opacity":0.55,"clip":true},
      "encoding":{
       "stroke":{"field":"s","type":"nominal","title":"CoM path","scale":{"domain":["2 iter","3000 iter","5000 iter","Final"],"range":["#ff1f1f","#7b55dd","#4cc2bb","#d6609e"]}},
       "strokeDash":{"field":"s","type":"nominal","title":"CoM path","scale":{"domain":["2 iter","3000 iter","5000 iter","Final"],"range":[[7,3,2,3],[2,2.5],[7,4],[1,0]]}},
       "order":{"value":null}}},
     {"transform":[{"filter":"datum.m=='l'&&datum.s!='Final'"}],"mark":{"type":"line","strokeWidth":2.2,"clip":true},
      "encoding":{
       "stroke":{"field":"s","type":"nominal","title":"CoM path","scale":{"domain":["2 iter","3000 iter","5000 iter","Final"],"range":["#ff1f1f","#7b55dd","#4cc2bb","#d6609e"]}},
       "strokeDash":{"field":"s","type":"nominal","title":"CoM path","scale":{"domain":["2 iter","3000 iter","5000 iter","Final"],"range":[[7,3,2,3],[2,2.5],[7,4],[1,0]]}},
       "order":{"value":null}}},
     {"transform":[{"filter":"datum.m=='d'"}],"mark":{"type":"point","shape":"M0,-1.25L0.8,0L0,1.25L-0.8,0Z","filled":true,"strokeWidth":0},
      "encoding":{
       "fill":{"field":"s","type":"nominal","title":"Step position","scale":{"domain":["2 iter","3000 iter","_a","5000 iter","Final","_b"],"range":["#ff1f1f","#7b55dd","rgba(0,0,0,0)","#4cc2bb","#d6609e","rgba(0,0,0,0)"]}},
       "opacity":{"field":"t","type":"quantitative","scale":{"domain":[0,1],"range":[0.3,1]}},
       "size":{"condition":{"test":"datum.s=='2 iter'","value":90},"value":64}}},
     {"transform":[{"filter":"datum.m=='e'"}],"mark":{"type":"point","shape":"M-1,0L1,0M0,-1L0,1M-0.7,-0.7L0.7,0.7M-0.7,0.7L0.7,-0.7","filled":false,"strokeWidth":2,"size":40,"opacity":1},
      "encoding":{"stroke":{"field":"s","type":"nominal","title":"CoM path","scale":{"domain":["2 iter","3000 iter","5000 iter","Final"],"range":["#ff1f1f","#7b55dd","#4cc2bb","#d6609e"]}}}},
     {"transform":[{"filter":"datum.m=='i'"}],"mark":{"type":"point","shape":"circle","filled":true,"size":90,"opacity":1,"stroke":"#444","strokeWidth":1},
      "encoding":{"color":{"field":"lab","type":"nominal","title":"Post impulse state","scale":{"domain":["(0.05, 0.39,  0.33)","(0.05, 0.26,  0.04)","(0.06, 0.24, -0.06)","(0.06, 0.20, -0.07)"],"range":["#ffa500","#a57af0","#3aa33a","#3cb6ef"]}}}}
    ]}
  ]}
 ]},
{"title":{"text":"(b) push inward","orient":"bottom","anchor":"middle","offset":8,"dx":18,"fontSize":18},
 "spacing":18,
 "hconcat":[
  {"spacing":6,"vconcat":[
   {"width":253,"height":107,"data":{"name":"all"},"transform":[{"filter":"datum.p=='b1'"}],
    "encoding":{
     "x":{"field":"x","type":"quantitative","scale":{"domain":[-0.1,2.15],"nice":false,"zero":false},"axis":{"title":"x","values":[-0.1,0,0.1,0.2,0.3,0.4,0.5,0.6,0.7,0.8,0.9,1,1.1,1.2,1.3,1.4,1.5,1.6,1.7,1.8,1.9,2,2.1],"labelExpr":"abs(datum.value*2-round(datum.value*2))<0.001?replace(format(datum.value,'~g'),'−','-'):''","gridDash":{"condition":{"test":"abs(datum.value*2-round(datum.value*2))<0.001","value":[]},"value":[1,2]},"gridColor":{"condition":{"test":"abs(datum.value*2-round(datum.value*2))<0.001","value":"#d4d4d4"},"value":"#c4c4c4"},"titlePadding":3}},
     "y":{"field":"y","type":"quantitative","scale":{"domain":[-0.15,0.8],"nice":false,"zero":false},"axis":{"title":"ẋ","values":[-0.15,-0.1,-0.05,0,0.05,0.1,0.15,0.2,0.25,0.3,0.35,0.4,0.45,0.5,0.55,0.6,0.65,0.7,0.75,0.8],"labelExpr":"abs(datum.value*5-round(datum.value*5))<0.001?replace(format(datum.value,'~g'),'−','-'):''","gridDash":{"condition":{"test":"abs(datum.value*5-round(datum.value*5))<0.001","value":[]},"value":[1,2]},"gridColor":{"condition":{"test":"abs(datum.value*5-round(datum.value*5))<0.001","value":"#d4d4d4"},"value":"#c4c4c4"},"titlePadding":3}}},
    "layer":[
     {"transform":[{"filter":"datum.m=='l'"}],"mark":{"type":"line","strokeWidth":1.7,"clip":true},
      "encoding":{
       "stroke":{"field":"s","type":"nominal","title":"CoM path","scale":{"domain":["2 iter","3000 iter","5000 iter","Final"],"range":["#ff1f1f","#7b55dd","#4cc2bb","#d6609e"]}},
       "strokeDash":{"field":"s","type":"nominal","title":"CoM path","scale":{"domain":["2 iter","3000 iter","5000 iter","Final"],"range":[[7,3,2,3],[2,2.5],[7,4],[1,0]]}},
       "order":{"value":null}}},
     {"transform":[{"filter":"datum.m=='d'"}],"mark":{"type":"point","shape":"M0,-1.25L0.8,0L0,1.25L-0.8,0Z","filled":true,"strokeWidth":0},
      "encoding":{
       "fill":{"field":"s","type":"nominal","title":"Step position","scale":{"domain":["2 iter","3000 iter","_a","5000 iter","Final","_b"],"range":["#ff1f1f","#7b55dd","rgba(0,0,0,0)","#4cc2bb","#d6609e","rgba(0,0,0,0)"]}},
       "opacity":{"field":"t","type":"quantitative","scale":{"domain":[0,1],"range":[0.3,1]}},
       "size":{"condition":{"test":"datum.s=='2 iter'||datum.t==0","value":110},"value":64}}},
     {"transform":[{"filter":"datum.m=='e'"}],"mark":{"type":"point","shape":"M-1,0L1,0M0,-1L0,1M-0.7,-0.7L0.7,0.7M-0.7,0.7L0.7,-0.7","filled":false,"strokeWidth":2,"size":40,"opacity":1},
      "encoding":{"stroke":{"field":"s","type":"nominal","title":"CoM path","scale":{"domain":["2 iter","3000 iter","5000 iter","Final"],"range":["#ff1f1f","#7b55dd","#4cc2bb","#d6609e"]}}}},
     {"transform":[{"filter":"datum.m=='i'"}],"mark":{"type":"point","shape":"circle","filled":true,"size":60,"opacity":1,"stroke":"#444","strokeWidth":1},
      "encoding":{"color":{"field":"lab","type":"nominal","title":"Post impulse state","scale":{"domain":["(0.05, 0.39,  0.33)","(0.05, 0.26,  0.04)","(0.06, 0.24, -0.06)","(0.06, 0.20, -0.07)"],"range":["#ffa500","#a57af0","#3aa33a","#3cb6ef"]}}}}
    ]},
   {"width":253,"height":107,"data":{"name":"all"},"transform":[{"filter":"datum.p=='b2'"}],
    "encoding":{
     "x":{"field":"x","type":"quantitative","scale":{"domain":[-0.1,2.15],"nice":false,"zero":false},"axis":{"title":"x","values":[-0.1,0,0.1,0.2,0.3,0.4,0.5,0.6,0.7,0.8,0.9,1,1.1,1.2,1.3,1.4,1.5,1.6,1.7,1.8,1.9,2,2.1],"labelExpr":"abs(datum.value*2-round(datum.value*2))<0.001?replace(format(datum.value,'~g'),'−','-'):''","gridDash":{"condition":{"test":"abs(datum.value*2-round(datum.value*2))<0.001","value":[]},"value":[1,2]},"gridColor":{"condition":{"test":"abs(datum.value*2-round(datum.value*2))<0.001","value":"#d4d4d4"},"value":"#c4c4c4"},"titlePadding":3}},
     "y":{"field":"y","type":"quantitative","scale":{"domain":[-0.15,0.8],"nice":false,"zero":false},"axis":{"title":"ẋ","values":[-0.15,-0.1,-0.05,0,0.05,0.1,0.15,0.2,0.25,0.3,0.35,0.4,0.45,0.5,0.55,0.6,0.65,0.7,0.75,0.8],"labelExpr":"abs(datum.value*5-round(datum.value*5))<0.001?replace(format(datum.value,'~g'),'−','-'):''","gridDash":{"condition":{"test":"abs(datum.value*5-round(datum.value*5))<0.001","value":[]},"value":[1,2]},"gridColor":{"condition":{"test":"abs(datum.value*5-round(datum.value*5))<0.001","value":"#d4d4d4"},"value":"#c4c4c4"},"titlePadding":3}}},
    "layer":[
     {"transform":[{"filter":"datum.m=='l'"}],"mark":{"type":"line","strokeWidth":1.7,"clip":true},
      "encoding":{
       "stroke":{"field":"s","type":"nominal","title":"CoM path","scale":{"domain":["2 iter","3000 iter","5000 iter","Final"],"range":["#ff1f1f","#7b55dd","#4cc2bb","#d6609e"]}},
       "strokeDash":{"field":"s","type":"nominal","title":"CoM path","scale":{"domain":["2 iter","3000 iter","5000 iter","Final"],"range":[[7,3,2,3],[2,2.5],[7,4],[1,0]]}},
       "order":{"value":null}}},
     {"transform":[{"filter":"datum.m=='d'"}],"mark":{"type":"point","shape":"M0,-1.25L0.8,0L0,1.25L-0.8,0Z","filled":true,"strokeWidth":0},
      "encoding":{
       "fill":{"field":"s","type":"nominal","title":"Step position","scale":{"domain":["2 iter","3000 iter","_a","5000 iter","Final","_b"],"range":["#ff1f1f","#7b55dd","rgba(0,0,0,0)","#4cc2bb","#d6609e","rgba(0,0,0,0)"]}},
       "opacity":{"field":"t","type":"quantitative","scale":{"domain":[0,1],"range":[0.3,1]}},
       "size":{"condition":{"test":"datum.s=='2 iter'||datum.t==0","value":110},"value":64}}},
     {"transform":[{"filter":"datum.m=='e'"}],"mark":{"type":"point","shape":"M-1,0L1,0M0,-1L0,1M-0.7,-0.7L0.7,0.7M-0.7,0.7L0.7,-0.7","filled":false,"strokeWidth":2,"size":40,"opacity":1},
      "encoding":{"stroke":{"field":"s","type":"nominal","title":"CoM path","scale":{"domain":["2 iter","3000 iter","5000 iter","Final"],"range":["#ff1f1f","#7b55dd","#4cc2bb","#d6609e"]}}}},
     {"transform":[{"filter":"datum.m=='i'"}],"mark":{"type":"point","shape":"circle","filled":true,"size":60,"opacity":1,"stroke":"#444","strokeWidth":1},
      "encoding":{"color":{"field":"lab","type":"nominal","title":"Post impulse state","scale":{"domain":["(0.05, 0.39,  0.33)","(0.05, 0.26,  0.04)","(0.06, 0.24, -0.06)","(0.06, 0.20, -0.07)"],"range":["#ffa500","#a57af0","#3aa33a","#3cb6ef"]}}}}
    ]}
  ]},
  {"spacing":18,"hconcat":[
   {"width":123,"height":257,"data":{"name":"all"},"transform":[{"filter":"datum.p=='b3'"}],
    "encoding":{
     "x":{"field":"x","type":"quantitative","scale":{"domain":[-0.4,0.35],"nice":false,"zero":false},"axis":{"title":"y","values":[-0.4,-0.35,-0.3,-0.25,-0.2,-0.15,-0.1,-0.05,0,0.05,0.1,0.15,0.2,0.25,0.3,0.35],"labelExpr":"abs(datum.value*5-round(datum.value*5))<0.001?replace(format(datum.value,'~g'),'−','-'):''","gridDash":{"condition":{"test":"abs(datum.value*5-round(datum.value*5))<0.001","value":[]},"value":[1,2]},"gridColor":{"condition":{"test":"abs(datum.value*5-round(datum.value*5))<0.001","value":"#d4d4d4"},"value":"#c4c4c4"},"labelPadding":7,"titlePadding":3}},
     "y":{"field":"y","type":"quantitative","scale":{"domain":[-0.8,0.8],"nice":false,"zero":false},"axis":{"title":"ẏ","values":[-0.8,-0.75,-0.7,-0.65,-0.6,-0.55,-0.5,-0.45,-0.4,-0.35,-0.3,-0.25,-0.2,-0.15,-0.1,-0.05,0,0.05,0.1,0.15,0.2,0.25,0.3,0.35,0.4,0.45,0.5,0.55,0.6,0.65,0.7,0.75,0.8],"labelExpr":"abs(datum.value*5-round(datum.value*5))<0.001?replace(format(datum.value,'~g'),'−','-'):''","gridDash":{"condition":{"test":"abs(datum.value*5-round(datum.value*5))<0.001","value":[]},"value":[1,2]},"gridColor":{"condition":{"test":"abs(datum.value*5-round(datum.value*5))<0.001","value":"#d4d4d4"},"value":"#c4c4c4"},"titlePadding":4}}},
    "layer":[
     {"transform":[{"filter":"datum.m=='l'&&datum.s=='Final'"}],"mark":{"type":"line","strokeWidth":5,"opacity":0.55,"clip":true},
      "encoding":{
       "stroke":{"field":"s","type":"nominal","title":"CoM path","scale":{"domain":["2 iter","3000 iter","5000 iter","Final"],"range":["#ff1f1f","#7b55dd","#4cc2bb","#d6609e"]}},
       "strokeDash":{"field":"s","type":"nominal","title":"CoM path","scale":{"domain":["2 iter","3000 iter","5000 iter","Final"],"range":[[7,3,2,3],[2,2.5],[7,4],[1,0]]}},
       "order":{"value":null}}},
     {"transform":[{"filter":"datum.m=='l'&&datum.s!='Final'"}],"mark":{"type":"line","strokeWidth":2.2,"clip":true},
      "encoding":{
       "stroke":{"field":"s","type":"nominal","title":"CoM path","scale":{"domain":["2 iter","3000 iter","5000 iter","Final"],"range":["#ff1f1f","#7b55dd","#4cc2bb","#d6609e"]}},
       "strokeDash":{"field":"s","type":"nominal","title":"CoM path","scale":{"domain":["2 iter","3000 iter","5000 iter","Final"],"range":[[7,3,2,3],[2,2.5],[7,4],[1,0]]}},
       "order":{"value":null}}},
     {"transform":[{"filter":"datum.m=='d'"}],"mark":{"type":"point","shape":"M0,-1.25L0.8,0L0,1.25L-0.8,0Z","filled":true,"strokeWidth":0},
      "encoding":{
       "fill":{"field":"s","type":"nominal","title":"Step position","scale":{"domain":["2 iter","3000 iter","_a","5000 iter","Final","_b"],"range":["#ff1f1f","#7b55dd","rgba(0,0,0,0)","#4cc2bb","#d6609e","rgba(0,0,0,0)"]}},
       "opacity":{"field":"t","type":"quantitative","scale":{"domain":[0,1],"range":[0.3,1]}},
       "size":{"condition":{"test":"datum.s=='2 iter'","value":90},"value":64}}},
     {"transform":[{"filter":"datum.m=='e'"}],"mark":{"type":"point","shape":"M-1,0L1,0M0,-1L0,1M-0.7,-0.7L0.7,0.7M-0.7,0.7L0.7,-0.7","filled":false,"strokeWidth":2,"size":40,"opacity":1},
      "encoding":{"stroke":{"field":"s","type":"nominal","title":"CoM path","scale":{"domain":["2 iter","3000 iter","5000 iter","Final"],"range":["#ff1f1f","#7b55dd","#4cc2bb","#d6609e"]}}}},
     {"transform":[{"filter":"datum.m=='i'"}],"mark":{"type":"point","shape":"circle","filled":true,"size":90,"opacity":1,"stroke":"#444","strokeWidth":1},
      "encoding":{"color":{"field":"lab","type":"nominal","title":"Post impulse state","scale":{"domain":["(0.05, 0.39,  0.33)","(0.05, 0.26,  0.04)","(0.06, 0.24, -0.06)","(0.06, 0.20, -0.07)"],"range":["#ffa500","#a57af0","#3aa33a","#3cb6ef"]}}}}
    ]},
   {"width":142,"height":262,"data":{"name":"all"},"transform":[{"filter":"datum.p=='b4'"}],
    "encoding":{
     "x":{"field":"x","type":"quantitative","scale":{"domain":[-0.345,0.3],"nice":false,"zero":false},"axis":{"title":"y","values":[-0.3,-0.25,-0.2,-0.15,-0.1,-0.05,0,0.05,0.1,0.15,0.2,0.25,0.3],"labelExpr":"abs(datum.value*5-round(datum.value*5))<0.001?replace(format(datum.value,'~g'),'−','-'):''","gridDash":{"condition":{"test":"abs(datum.value*5-round(datum.value*5))<0.001","value":[]},"value":[1,2]},"gridColor":{"condition":{"test":"abs(datum.value*5-round(datum.value*5))<0.001","value":"#d4d4d4"},"value":"#c4c4c4"},"labelPadding":7,"titlePadding":3}},
     "y":{"field":"y","type":"quantitative","scale":{"domain":[-0.6,0.595],"nice":false,"zero":false},"axis":{"title":null,"values":[-0.6,-0.55,-0.5,-0.45,-0.4,-0.35,-0.3,-0.25,-0.2,-0.15,-0.1,-0.05,0,0.05,0.1,0.15,0.2,0.25,0.3,0.35,0.4,0.45,0.5,0.55],"labelExpr":"abs(datum.value*5-round(datum.value*5))<0.001?replace(format(datum.value,'~g'),'−','-'):''","gridDash":{"condition":{"test":"abs(datum.value*5-round(datum.value*5))<0.001","value":[]},"value":[1,2]},"gridColor":{"condition":{"test":"abs(datum.value*5-round(datum.value*5))<0.001","value":"#d4d4d4"},"value":"#c4c4c4"}}}},
    "layer":[
     {"transform":[{"filter":"datum.m=='l'&&datum.s=='Final'"}],"mark":{"type":"line","strokeWidth":5,"opacity":0.55,"clip":true},
      "encoding":{
       "stroke":{"field":"s","type":"nominal","title":"CoM path","scale":{"domain":["2 iter","3000 iter","5000 iter","Final"],"range":["#ff1f1f","#7b55dd","#4cc2bb","#d6609e"]}},
       "strokeDash":{"field":"s","type":"nominal","title":"CoM path","scale":{"domain":["2 iter","3000 iter","5000 iter","Final"],"range":[[7,3,2,3],[2,2.5],[7,4],[1,0]]}},
       "order":{"value":null}}},
     {"transform":[{"filter":"datum.m=='l'&&datum.s!='Final'"}],"mark":{"type":"line","strokeWidth":2.2,"clip":true},
      "encoding":{
       "stroke":{"field":"s","type":"nominal","title":"CoM path","scale":{"domain":["2 iter","3000 iter","5000 iter","Final"],"range":["#ff1f1f","#7b55dd","#4cc2bb","#d6609e"]}},
       "strokeDash":{"field":"s","type":"nominal","title":"CoM path","scale":{"domain":["2 iter","3000 iter","5000 iter","Final"],"range":[[7,3,2,3],[2,2.5],[7,4],[1,0]]}},
       "order":{"value":null}}},
     {"transform":[{"filter":"datum.m=='d'"}],"mark":{"type":"point","shape":"M0,-1.25L0.8,0L0,1.25L-0.8,0Z","filled":true,"strokeWidth":0},
      "encoding":{
       "fill":{"field":"s","type":"nominal","title":"Step position","scale":{"domain":["2 iter","3000 iter","_a","5000 iter","Final","_b"],"range":["#ff1f1f","#7b55dd","rgba(0,0,0,0)","#4cc2bb","#d6609e","rgba(0,0,0,0)"]}},
       "opacity":{"field":"t","type":"quantitative","scale":{"domain":[0,1],"range":[0.3,1]}},
       "size":{"condition":{"test":"datum.s=='2 iter'","value":90},"value":64}}},
     {"transform":[{"filter":"datum.m=='e'"}],"mark":{"type":"point","shape":"M-1,0L1,0M0,-1L0,1M-0.7,-0.7L0.7,0.7M-0.7,0.7L0.7,-0.7","filled":false,"strokeWidth":2,"size":40,"opacity":1},
      "encoding":{"stroke":{"field":"s","type":"nominal","title":"CoM path","scale":{"domain":["2 iter","3000 iter","5000 iter","Final"],"range":["#ff1f1f","#7b55dd","#4cc2bb","#d6609e"]}}}},
     {"transform":[{"filter":"datum.m=='i'"}],"mark":{"type":"point","shape":"circle","filled":true,"size":90,"opacity":1,"stroke":"#444","strokeWidth":1},
      "encoding":{"color":{"field":"lab","type":"nominal","title":"Post impulse state","scale":{"domain":["(0.05, 0.39,  0.33)","(0.05, 0.26,  0.04)","(0.06, 0.24, -0.06)","(0.06, 0.20, -0.07)"],"range":["#ffa500","#a57af0","#3aa33a","#3cb6ef"]}}}}
    ]}
  ]}
 ]}
]
}
